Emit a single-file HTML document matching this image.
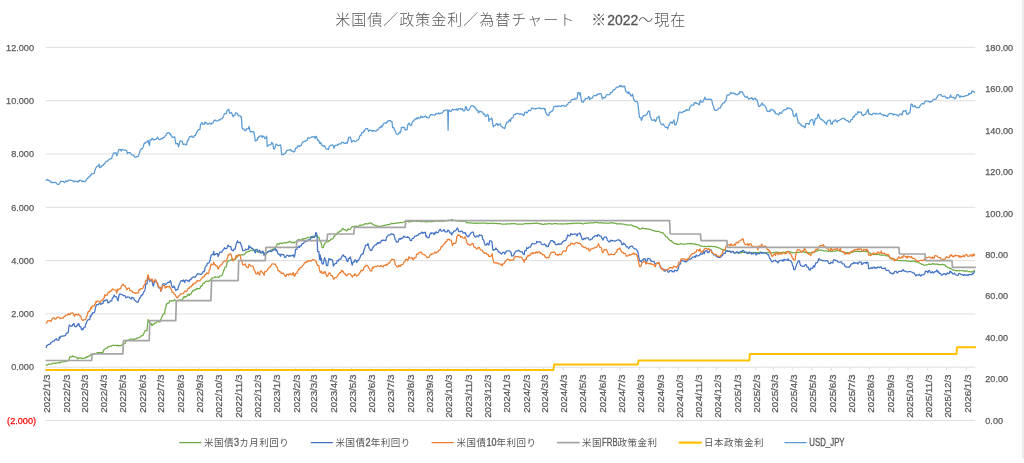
<!DOCTYPE html>
<html lang="ja"><head><meta charset="utf-8"><title>米国債／政策金利／為替チャート</title>
<style>html,body{margin:0;padding:0;background:#fff;}body{width:1024px;height:463px;overflow:hidden;}svg{display:block;filter:blur(0.4px);}text{font-family:"Liberation Sans","Noto Sans CJK JP",sans-serif;fill:#595959;}.ax{font-size:9.8px;stroke:#595959;stroke-width:0.25px;}.lg{font-size:9.5px;letter-spacing:0.5px;}.lt{font-size:10.2px;letter-spacing:0;stroke:#595959;stroke-width:0.3px;}.ttl{font-size:15px;letter-spacing:1px;font-weight:300;fill:#555;}.td{font-size:14px;letter-spacing:0;stroke:#555;stroke-width:0.3px;}.ln{fill:none;stroke-linejoin:round;stroke-linecap:round;}</style></head><body>
<svg width="1024" height="463" viewBox="0 0 1024 463">
<rect x="0" y="0" width="1024" height="463" fill="#ffffff"/>
<rect x="1022" y="0" width="2" height="458.5" fill="#ebebeb"/>
<text class="ttl" x="335.3" y="24.5">米国債／政策金利／為替チャート　※<tspan class="td" textLength="31" lengthAdjust="spacingAndGlyphs">2022</tspan>～現在</text>
<g stroke="#d9d9d9" stroke-width="0.85" fill="none">
<line x1="45.9" y1="47.45" x2="975.3" y2="47.45"/>
<line x1="45.9" y1="100.74" x2="975.3" y2="100.74"/>
<line x1="45.9" y1="154.03" x2="975.3" y2="154.03"/>
<line x1="45.9" y1="207.32" x2="975.3" y2="207.32"/>
<line x1="45.9" y1="260.61" x2="975.3" y2="260.61"/>
<line x1="45.9" y1="313.90" x2="975.3" y2="313.90"/>
<line x1="45.9" y1="367.19" x2="975.3" y2="367.19"/>
<line x1="45.9" y1="420.48" x2="975.3" y2="420.48"/>
</g>
<g stroke="#d9d9d9" stroke-width="0.85" fill="none">
<line x1="45.90" y1="367.19" x2="45.90" y2="370.39"/>
<line x1="65.42" y1="367.19" x2="65.42" y2="370.39"/>
<line x1="83.06" y1="367.19" x2="83.06" y2="370.39"/>
<line x1="102.58" y1="367.19" x2="102.58" y2="370.39"/>
<line x1="121.48" y1="367.19" x2="121.48" y2="370.39"/>
<line x1="141.00" y1="367.19" x2="141.00" y2="370.39"/>
<line x1="159.89" y1="367.19" x2="159.89" y2="370.39"/>
<line x1="179.42" y1="367.19" x2="179.42" y2="370.39"/>
<line x1="198.94" y1="367.19" x2="198.94" y2="370.39"/>
<line x1="217.84" y1="367.19" x2="217.84" y2="370.39"/>
<line x1="237.36" y1="367.19" x2="237.36" y2="370.39"/>
<line x1="256.25" y1="367.19" x2="256.25" y2="370.39"/>
<line x1="275.78" y1="367.19" x2="275.78" y2="370.39"/>
<line x1="295.30" y1="367.19" x2="295.30" y2="370.39"/>
<line x1="312.94" y1="367.19" x2="312.94" y2="370.39"/>
<line x1="332.46" y1="367.19" x2="332.46" y2="370.39"/>
<line x1="351.35" y1="367.19" x2="351.35" y2="370.39"/>
<line x1="370.88" y1="367.19" x2="370.88" y2="370.39"/>
<line x1="389.77" y1="367.19" x2="389.77" y2="370.39"/>
<line x1="409.29" y1="367.19" x2="409.29" y2="370.39"/>
<line x1="428.82" y1="367.19" x2="428.82" y2="370.39"/>
<line x1="447.71" y1="367.19" x2="447.71" y2="370.39"/>
<line x1="467.24" y1="367.19" x2="467.24" y2="370.39"/>
<line x1="486.13" y1="367.19" x2="486.13" y2="370.39"/>
<line x1="505.65" y1="367.19" x2="505.65" y2="370.39"/>
<line x1="525.18" y1="367.19" x2="525.18" y2="370.39"/>
<line x1="543.44" y1="367.19" x2="543.44" y2="370.39"/>
<line x1="562.97" y1="367.19" x2="562.97" y2="370.39"/>
<line x1="581.86" y1="367.19" x2="581.86" y2="370.39"/>
<line x1="601.38" y1="367.19" x2="601.38" y2="370.39"/>
<line x1="620.28" y1="367.19" x2="620.28" y2="370.39"/>
<line x1="639.80" y1="367.19" x2="639.80" y2="370.39"/>
<line x1="659.33" y1="367.19" x2="659.33" y2="370.39"/>
<line x1="678.22" y1="367.19" x2="678.22" y2="370.39"/>
<line x1="697.74" y1="367.19" x2="697.74" y2="370.39"/>
<line x1="716.64" y1="367.19" x2="716.64" y2="370.39"/>
<line x1="736.16" y1="367.19" x2="736.16" y2="370.39"/>
<line x1="755.68" y1="367.19" x2="755.68" y2="370.39"/>
<line x1="773.32" y1="367.19" x2="773.32" y2="370.39"/>
<line x1="792.84" y1="367.19" x2="792.84" y2="370.39"/>
<line x1="811.74" y1="367.19" x2="811.74" y2="370.39"/>
<line x1="831.26" y1="367.19" x2="831.26" y2="370.39"/>
<line x1="850.15" y1="367.19" x2="850.15" y2="370.39"/>
<line x1="869.68" y1="367.19" x2="869.68" y2="370.39"/>
<line x1="889.20" y1="367.19" x2="889.20" y2="370.39"/>
<line x1="908.10" y1="367.19" x2="908.10" y2="370.39"/>
<line x1="927.62" y1="367.19" x2="927.62" y2="370.39"/>
<line x1="946.51" y1="367.19" x2="946.51" y2="370.39"/>
<line x1="966.04" y1="367.19" x2="966.04" y2="370.39"/>
</g>
<path class="ln" d="M46.2 364.7 L46.8 365.0 L47.5 365.0 L48.1 364.5 L48.7 364.1 L49.3 364.1 L50.0 364.1 L50.6 364.0 L51.2 364.0 L51.9 364.1 L52.5 363.4 L53.1 363.2 L53.8 363.2 L54.4 363.2 L55.0 363.3 L55.6 363.1 L56.3 363.3 L56.9 363.0 L57.5 362.7 L58.2 362.7 L58.8 362.7 L59.4 362.4 L60.1 363.0 L60.7 362.2 L61.3 361.9 L61.9 361.8 L62.6 361.8 L63.2 361.8 L63.8 361.8 L64.5 361.7 L65.1 361.4 L65.7 361.2 L66.4 361.0 L67.0 361.0 L67.6 361.0 L68.2 360.3 L68.9 360.0 L69.5 358.0 L70.1 356.4 L70.8 356.9 L71.4 356.9 L72.0 356.9 L72.7 356.0 L73.3 356.5 L73.9 356.4 L74.5 356.9 L75.2 357.0 L75.8 357.0 L76.4 357.0 L77.1 357.9 L77.7 358.8 L78.3 358.0 L78.9 358.3 L79.6 357.9 L80.2 357.9 L80.8 357.9 L81.5 358.4 L82.1 358.6 L82.7 358.3 L83.4 358.3 L84.0 358.1 L84.6 358.1 L85.2 358.1 L85.9 357.2 L86.5 357.3 L87.1 356.6 L87.8 357.0 L88.4 356.1 L89.0 356.1 L89.7 356.1 L90.3 355.2 L90.9 354.6 L91.5 354.6 L92.2 354.0 L92.8 354.2 L93.4 354.2 L94.1 354.2 L94.7 353.4 L95.3 353.6 L96.0 353.3 L96.6 353.0 L97.2 352.6 L97.8 352.6 L98.5 352.6 L99.1 352.5 L99.7 352.5 L100.4 352.8 L101.0 352.4 L101.6 352.7 L102.3 352.7 L102.9 352.7 L103.5 350.4 L104.1 349.6 L104.8 349.2 L105.4 348.8 L106.0 348.1 L106.7 348.1 L107.3 348.1 L107.9 346.8 L108.6 346.5 L109.2 346.5 L109.8 346.5 L110.4 346.1 L111.1 346.1 L111.7 346.1 L112.3 345.4 L113.0 345.3 L113.6 345.3 L114.2 345.3 L114.8 345.4 L115.5 345.4 L116.1 345.4 L116.7 345.8 L117.4 345.3 L118.0 345.2 L118.6 346.0 L119.3 345.6 L119.9 345.6 L120.5 345.6 L121.1 345.7 L121.8 345.1 L122.4 344.0 L123.0 344.3 L123.7 343.6 L124.3 343.6 L124.9 343.6 L125.6 341.9 L126.2 341.5 L126.8 340.9 L127.4 340.3 L128.1 340.1 L128.7 340.1 L129.3 340.1 L130.0 339.1 L130.6 339.2 L131.2 339.2 L131.9 339.1 L132.5 339.5 L133.1 339.5 L133.7 339.5 L134.4 338.8 L135.0 339.1 L135.6 339.0 L136.3 338.6 L136.9 338.1 L137.5 338.1 L138.2 338.1 L138.8 337.5 L139.4 337.3 L140.0 337.0 L140.7 336.8 L141.3 335.7 L141.9 335.7 L142.6 335.7 L143.2 335.0 L143.8 333.4 L144.4 332.2 L145.1 330.8 L145.7 330.6 L146.3 330.6 L147.0 330.6 L147.6 323.5 L148.2 319.5 L148.9 320.7 L149.5 322.8 L150.1 323.7 L150.7 323.7 L151.4 323.7 L152.0 325.8 L152.6 324.7 L153.3 324.0 L153.9 324.1 L154.5 323.0 L155.2 323.0 L155.8 323.0 L156.4 322.8 L157.0 321.7 L157.7 321.5 L158.3 321.8 L158.9 321.8 L159.6 321.8 L160.2 321.8 L160.8 319.3 L161.5 318.1 L162.1 316.2 L162.7 315.5 L163.3 313.9 L164.0 313.9 L164.6 313.9 L165.2 309.0 L165.9 307.1 L166.5 303.8 L167.1 303.8 L167.8 303.0 L168.4 303.0 L169.0 303.0 L169.6 300.8 L170.3 300.6 L170.9 300.8 L171.5 301.1 L172.2 300.8 L172.8 300.8 L173.4 300.8 L174.0 300.3 L174.7 299.6 L175.3 300.7 L175.9 300.9 L176.6 300.6 L177.2 300.6 L177.8 300.6 L178.5 300.4 L179.1 299.9 L179.7 300.2 L180.3 299.8 L181.0 300.2 L181.6 300.2 L182.2 300.2 L182.9 298.2 L183.5 297.4 L184.1 296.4 L184.8 297.5 L185.4 296.7 L186.0 296.7 L186.6 296.7 L187.3 295.0 L187.9 295.2 L188.5 294.1 L189.2 295.5 L189.8 294.1 L190.4 294.1 L191.1 294.1 L191.7 292.4 L192.3 291.7 L192.9 290.6 L193.6 290.9 L194.2 289.9 L194.8 289.9 L195.5 289.9 L196.1 289.6 L196.7 288.3 L197.4 288.4 L198.0 288.9 L198.6 288.7 L199.2 288.7 L199.9 288.7 L200.5 286.6 L201.1 285.8 L201.8 286.1 L202.4 285.3 L203.0 283.2 L203.7 283.2 L204.3 283.2 L204.9 282.2 L205.5 281.7 L206.2 281.2 L206.8 281.0 L207.4 281.4 L208.1 281.4 L208.7 281.4 L209.3 280.6 L209.9 280.9 L210.6 279.7 L211.2 279.1 L211.8 278.1 L212.5 278.1 L213.1 278.1 L213.7 277.8 L214.4 277.3 L215.0 276.8 L215.6 277.4 L216.2 277.2 L216.9 277.2 L217.5 277.2 L218.1 277.1 L218.8 277.5 L219.4 276.7 L220.0 276.0 L220.7 275.9 L221.3 275.9 L221.9 275.9 L222.5 274.1 L223.2 272.3 L223.8 270.5 L224.4 268.8 L225.1 266.9 L225.7 266.9 L226.3 266.9 L227.0 262.7 L227.6 261.5 L228.2 261.4 L228.8 260.5 L229.5 260.3 L230.1 260.3 L230.7 260.3 L231.4 259.9 L232.0 259.2 L232.6 259.2 L233.3 260.7 L233.9 259.5 L234.5 259.5 L235.1 259.5 L235.8 258.6 L236.4 257.2 L237.0 257.0 L237.7 256.5 L238.3 255.0 L238.9 255.0 L239.5 255.0 L240.2 255.7 L240.8 255.1 L241.4 254.9 L242.1 254.7 L242.7 254.8 L243.3 254.8 L244.0 254.8 L244.6 254.0 L245.2 253.7 L245.8 252.4 L246.5 252.5 L247.1 251.6 L247.7 251.6 L248.4 251.6 L249.0 251.4 L249.6 251.3 L250.3 250.3 L250.9 250.4 L251.5 250.3 L252.1 250.3 L252.8 250.3 L253.4 250.4 L254.0 249.7 L254.7 249.9 L255.3 250.3 L255.9 251.6 L256.6 251.6 L257.2 251.6 L257.8 251.8 L258.4 251.4 L259.1 251.8 L259.7 251.9 L260.3 252.1 L261.0 252.1 L261.6 252.1 L262.2 252.7 L262.9 252.9 L263.5 252.8 L264.1 253.3 L264.7 254.4 L265.4 254.4 L266.0 254.4 L266.6 253.1 L267.3 252.2 L267.9 251.6 L268.5 251.5 L269.1 251.3 L269.8 251.3 L270.4 251.3 L271.0 249.9 L271.7 249.9 L272.3 249.7 L272.9 249.0 L273.6 248.8 L274.2 248.8 L274.8 248.8 L275.4 248.3 L276.1 245.9 L276.7 245.4 L277.3 243.6 L278.0 244.0 L278.6 244.0 L279.2 244.0 L279.9 243.2 L280.5 243.2 L281.1 243.3 L281.7 243.7 L282.4 243.2 L283.0 243.2 L283.6 243.2 L284.3 242.8 L284.9 242.6 L285.5 242.7 L286.2 243.0 L286.8 242.4 L287.4 242.4 L288.0 242.4 L288.7 241.9 L289.3 241.7 L289.9 241.7 L290.6 241.6 L291.2 242.5 L291.8 242.5 L292.5 242.5 L293.1 242.3 L293.7 242.2 L294.3 243.0 L295.0 242.0 L295.6 241.9 L296.2 241.9 L296.9 241.9 L297.5 240.7 L298.1 239.6 L298.7 239.5 L299.4 239.5 L300.0 240.1 L300.6 240.1 L301.3 240.1 L301.9 239.7 L302.5 238.6 L303.2 239.4 L303.8 238.8 L304.4 238.7 L305.0 238.7 L305.7 238.7 L306.3 238.2 L306.9 238.1 L307.6 237.4 L308.2 237.5 L308.8 237.3 L309.5 237.3 L310.1 237.3 L310.7 237.4 L311.3 237.9 L312.0 238.0 L312.6 236.7 L313.2 236.0 L313.9 236.0 L314.5 236.0 L315.1 235.7 L315.8 235.2 L316.4 235.9 L317.0 235.8 L317.6 237.1 L318.3 237.1 L318.9 237.1 L319.5 240.1 L320.2 241.2 L320.8 242.0 L321.4 244.0 L322.1 247.7 L322.7 247.7 L323.3 247.7 L323.9 245.0 L324.6 244.1 L325.2 243.0 L325.8 242.4 L326.5 241.8 L327.1 241.8 L327.7 241.8 L328.4 240.7 L329.0 241.4 L329.6 240.6 L330.2 240.3 L330.9 239.1 L331.5 239.1 L332.1 239.1 L332.8 238.5 L333.4 238.2 L334.0 236.1 L334.6 236.3 L335.3 234.6 L335.9 234.6 L336.5 234.6 L337.2 233.3 L337.8 232.3 L338.4 232.1 L339.1 232.1 L339.7 231.1 L340.3 231.1 L340.9 231.1 L341.6 230.0 L342.2 228.7 L342.8 228.3 L343.5 229.6 L344.1 229.7 L344.7 229.7 L345.4 229.7 L346.0 230.7 L346.6 230.9 L347.2 230.5 L347.9 228.9 L348.5 229.4 L349.1 229.4 L349.8 229.4 L350.4 228.9 L351.0 228.1 L351.7 227.0 L352.3 226.7 L352.9 226.7 L353.5 226.7 L354.2 226.7 L354.8 226.1 L355.4 226.3 L356.1 226.2 L356.7 226.2 L357.3 226.6 L358.0 226.6 L358.6 226.6 L359.2 225.7 L359.8 225.1 L360.5 225.6 L361.1 225.1 L361.7 225.1 L362.4 225.1 L363.0 225.1 L363.6 224.6 L364.2 224.3 L364.9 223.9 L365.5 223.6 L366.1 223.8 L366.8 223.8 L367.4 223.8 L368.0 223.9 L368.7 223.4 L369.3 223.1 L369.9 222.9 L370.5 223.2 L371.2 223.2 L371.8 223.2 L372.4 224.4 L373.1 224.4 L373.7 224.8 L374.3 225.1 L375.0 225.3 L375.6 225.3 L376.2 225.3 L376.8 226.0 L377.5 226.0 L378.1 226.1 L378.7 226.3 L379.4 226.3 L380.0 226.3 L380.6 226.3 L381.3 226.1 L381.9 226.1 L382.5 225.8 L383.1 225.5 L383.8 225.4 L384.4 225.4 L385.0 225.4 L385.7 225.1 L386.3 225.0 L386.9 224.8 L387.6 224.6 L388.2 224.5 L388.8 224.5 L389.4 224.5 L390.1 224.0 L390.7 223.9 L391.3 223.4 L392.0 223.6 L392.6 223.5 L393.2 223.5 L393.8 223.5 L394.5 223.4 L395.1 223.0 L395.7 223.0 L396.4 223.0 L397.0 223.1 L397.6 223.1 L398.3 223.1 L398.9 222.6 L399.5 222.5 L400.1 222.7 L400.8 222.3 L401.4 222.5 L402.0 222.5 L402.7 222.5 L403.3 222.2 L403.9 222.0 L404.6 221.6 L405.2 221.7 L405.8 221.4 L406.4 221.4 L407.1 221.4 L407.7 221.4 L408.3 221.8 L409.0 221.6 L409.6 221.9 L410.2 221.5 L410.9 221.5 L411.5 221.5 L412.1 221.2 L412.7 221.3 L413.4 221.4 L414.0 221.2 L414.6 221.2 L415.3 221.2 L415.9 221.2 L416.5 221.3 L417.2 221.2 L417.8 221.4 L418.4 221.3 L419.0 221.3 L419.7 221.3 L420.3 221.3 L420.9 221.7 L421.6 221.7 L422.2 221.6 L422.8 221.6 L423.5 221.4 L424.1 221.4 L424.7 221.4 L425.3 221.9 L426.0 221.8 L426.6 221.6 L427.2 221.8 L427.9 221.5 L428.5 221.5 L429.1 221.5 L429.7 221.6 L430.4 221.6 L431.0 221.6 L431.6 221.5 L432.3 221.5 L432.9 221.5 L433.5 221.5 L434.2 221.2 L434.8 221.2 L435.4 221.2 L436.0 221.2 L436.7 221.2 L437.3 221.2 L437.9 221.2 L438.6 221.2 L439.2 221.4 L439.8 220.8 L440.5 221.2 L441.1 221.1 L441.7 221.1 L442.3 221.1 L443.0 221.4 L443.6 221.1 L444.2 220.7 L444.9 220.9 L445.5 220.7 L446.1 220.7 L446.8 220.7 L447.4 220.6 L448.0 220.3 L448.6 220.3 L449.3 220.1 L449.9 220.0 L450.5 220.0 L451.2 220.0 L451.8 219.6 L452.4 219.6 L453.1 220.2 L453.7 220.5 L454.3 220.4 L454.9 220.4 L455.6 220.4 L456.2 220.5 L456.8 220.8 L457.5 220.9 L458.1 220.9 L458.7 221.0 L459.3 221.0 L460.0 221.0 L460.6 221.4 L461.2 221.1 L461.9 221.2 L462.5 221.1 L463.1 221.3 L463.8 221.3 L464.4 221.3 L465.0 221.4 L465.6 221.7 L466.3 222.1 L466.9 222.8 L467.5 222.7 L468.2 222.7 L468.8 222.7 L469.4 222.9 L470.1 223.2 L470.7 223.0 L471.3 222.8 L471.9 223.1 L472.6 223.1 L473.2 223.1 L473.8 223.1 L474.5 223.5 L475.1 223.1 L475.7 223.3 L476.4 223.1 L477.0 223.1 L477.6 223.1 L478.2 223.3 L478.9 223.1 L479.5 223.2 L480.1 223.1 L480.8 223.0 L481.4 223.0 L482.0 223.0 L482.7 223.2 L483.3 223.2 L483.9 223.1 L484.5 223.0 L485.2 223.1 L485.8 223.1 L486.4 223.1 L487.1 223.4 L487.7 223.7 L488.3 223.3 L488.9 223.3 L489.6 223.3 L490.2 223.3 L490.8 223.3 L491.5 223.2 L492.1 223.2 L492.7 223.3 L493.4 223.6 L494.0 223.4 L494.6 223.4 L495.2 223.4 L495.9 223.5 L496.5 223.4 L497.1 223.7 L497.8 223.7 L498.4 223.5 L499.0 223.5 L499.7 223.5 L500.3 223.7 L500.9 223.9 L501.5 224.1 L502.2 224.1 L502.8 224.0 L503.4 224.0 L504.1 224.0 L504.7 224.1 L505.3 224.1 L506.0 224.0 L506.6 224.3 L507.2 223.8 L507.8 223.8 L508.5 223.8 L509.1 223.8 L509.7 224.0 L510.4 223.7 L511.0 223.9 L511.6 223.7 L512.3 223.7 L512.9 223.7 L513.5 223.8 L514.1 223.7 L514.8 223.6 L515.4 223.6 L516.0 224.1 L516.7 224.1 L517.3 224.1 L517.9 224.0 L518.6 224.0 L519.2 224.1 L519.8 224.1 L520.4 224.2 L521.1 224.2 L521.7 224.2 L522.3 224.0 L523.0 224.0 L523.6 224.1 L524.2 223.9 L524.8 223.7 L525.5 223.7 L526.1 223.7 L526.7 223.7 L527.4 223.6 L528.0 223.8 L528.6 223.5 L529.3 223.5 L529.9 223.5 L530.5 223.5 L531.1 223.4 L531.8 223.6 L532.4 223.4 L533.0 223.4 L533.7 223.3 L534.3 223.3 L534.9 223.3 L535.6 223.1 L536.2 223.1 L536.8 223.3 L537.4 223.0 L538.1 223.5 L538.7 223.5 L539.3 223.5 L540.0 223.7 L540.6 223.8 L541.2 224.2 L541.9 223.9 L542.5 224.3 L543.1 224.3 L543.7 224.3 L544.4 224.2 L545.0 223.9 L545.6 224.1 L546.3 224.1 L546.9 223.9 L547.5 223.9 L548.2 223.9 L548.8 223.5 L549.4 223.7 L550.0 223.7 L550.7 223.6 L551.3 224.0 L551.9 224.0 L552.6 224.0 L553.2 223.7 L553.8 223.7 L554.4 223.7 L555.1 223.6 L555.7 223.7 L556.3 223.7 L557.0 223.7 L557.6 223.9 L558.2 224.0 L558.9 223.9 L559.5 224.0 L560.1 223.9 L560.7 223.9 L561.4 223.9 L562.0 224.1 L562.6 223.9 L563.3 224.0 L563.9 223.8 L564.5 223.8 L565.2 223.8 L565.8 223.8 L566.4 223.8 L567.0 223.5 L567.7 224.0 L568.3 223.6 L568.9 223.6 L569.6 223.6 L570.2 223.6 L570.8 223.4 L571.5 223.6 L572.1 223.6 L572.7 223.4 L573.3 223.2 L574.0 223.2 L574.6 223.2 L575.2 223.3 L575.9 223.5 L576.5 223.3 L577.1 223.2 L577.8 223.2 L578.4 223.2 L579.0 223.2 L579.6 223.3 L580.3 223.4 L580.9 223.3 L581.5 223.4 L582.2 223.8 L582.8 223.8 L583.4 223.8 L584.0 223.6 L584.7 223.2 L585.3 223.3 L585.9 223.3 L586.6 223.2 L587.2 223.2 L587.8 223.2 L588.5 223.2 L589.1 223.0 L589.7 222.9 L590.3 222.9 L591.0 222.9 L591.6 222.9 L592.2 222.9 L592.9 223.0 L593.5 222.9 L594.1 222.5 L594.8 222.6 L595.4 222.4 L596.0 222.4 L596.6 222.4 L597.3 222.4 L597.9 222.6 L598.5 222.9 L599.2 223.0 L599.8 222.7 L600.4 222.7 L601.1 222.7 L601.7 223.1 L602.3 223.0 L602.9 223.1 L603.6 222.8 L604.2 223.0 L604.8 223.0 L605.5 223.0 L606.1 223.0 L606.7 223.0 L607.4 223.2 L608.0 223.3 L608.6 223.1 L609.2 223.1 L609.9 223.1 L610.5 223.0 L611.1 222.6 L611.8 222.5 L612.4 223.0 L613.0 223.0 L613.6 223.0 L614.3 223.0 L614.9 223.1 L615.5 223.4 L616.2 223.6 L616.8 223.8 L617.4 223.8 L618.1 223.8 L618.7 223.8 L619.3 223.8 L619.9 223.8 L620.6 223.7 L621.2 223.9 L621.8 224.0 L622.5 224.0 L623.1 224.0 L623.7 224.2 L624.4 224.4 L625.0 224.4 L625.6 224.6 L626.2 224.8 L626.9 224.8 L627.5 224.8 L628.1 225.0 L628.8 225.0 L629.4 225.0 L630.0 224.9 L630.7 225.2 L631.3 225.2 L631.9 225.2 L632.5 225.8 L633.2 225.8 L633.8 226.3 L634.4 226.3 L635.1 226.6 L635.7 226.6 L636.3 226.6 L637.0 227.3 L637.6 227.4 L638.2 228.1 L638.8 228.2 L639.5 229.1 L640.1 229.1 L640.7 229.1 L641.4 228.4 L642.0 228.3 L642.6 228.2 L643.3 228.3 L643.9 228.6 L644.5 228.6 L645.1 228.6 L645.8 228.9 L646.4 228.6 L647.0 228.9 L647.7 229.1 L648.3 229.0 L648.9 229.0 L649.5 229.0 L650.2 229.6 L650.8 229.6 L651.4 230.0 L652.1 230.2 L652.7 230.5 L653.3 230.5 L654.0 230.5 L654.6 231.0 L655.2 231.1 L655.8 231.6 L656.5 231.4 L657.1 231.4 L657.7 231.4 L658.4 231.4 L659.0 231.6 L659.6 231.8 L660.3 232.0 L660.9 232.5 L661.5 232.7 L662.1 232.7 L662.8 232.7 L663.4 233.5 L664.0 234.2 L664.7 235.1 L665.3 235.5 L665.9 236.9 L666.6 236.9 L667.2 236.9 L667.8 238.2 L668.4 238.7 L669.1 239.5 L669.7 240.2 L670.3 240.7 L671.0 240.7 L671.6 240.7 L672.2 242.2 L672.9 242.2 L673.5 243.0 L674.1 243.3 L674.7 243.7 L675.4 243.7 L676.0 243.7 L676.6 244.3 L677.3 244.2 L677.9 244.3 L678.5 244.2 L679.1 244.2 L679.8 244.2 L680.4 244.2 L681.0 243.5 L681.7 243.7 L682.3 243.8 L682.9 244.0 L683.6 244.2 L684.2 244.2 L684.8 244.2 L685.4 244.0 L686.1 243.8 L686.7 244.0 L687.3 243.9 L688.0 243.7 L688.6 243.7 L689.2 243.7 L689.9 243.9 L690.5 243.6 L691.1 243.7 L691.7 243.5 L692.4 243.9 L693.0 243.9 L693.6 243.9 L694.3 243.8 L694.9 244.2 L695.5 244.0 L696.2 244.7 L696.8 244.6 L697.4 244.6 L698.0 244.6 L698.7 245.0 L699.3 245.5 L699.9 245.8 L700.6 245.9 L701.2 246.2 L701.8 246.2 L702.5 246.2 L703.1 246.5 L703.7 246.6 L704.3 246.2 L705.0 246.5 L705.6 246.5 L706.2 246.5 L706.9 246.5 L707.5 246.3 L708.1 246.4 L708.7 246.2 L709.4 246.6 L710.0 246.4 L710.6 246.4 L711.3 246.4 L711.9 246.3 L712.5 246.5 L713.2 246.5 L713.8 246.5 L714.4 246.5 L715.0 246.5 L715.7 246.5 L716.3 247.2 L716.9 247.4 L717.6 247.3 L718.2 247.6 L718.8 248.1 L719.5 248.1 L720.1 248.1 L720.7 248.8 L721.3 249.1 L722.0 249.4 L722.6 249.6 L723.2 250.0 L723.9 250.0 L724.5 250.0 L725.1 250.3 L725.8 250.5 L726.4 250.8 L727.0 250.9 L727.6 251.0 L728.3 251.0 L728.9 251.0 L729.5 251.4 L730.2 251.3 L730.8 251.7 L731.4 251.8 L732.1 251.7 L732.7 251.7 L733.3 251.7 L733.9 252.3 L734.6 252.8 L735.2 252.8 L735.8 252.7 L736.5 252.5 L737.1 252.5 L737.7 252.5 L738.4 252.8 L739.0 252.7 L739.6 252.6 L740.2 252.8 L740.9 252.5 L741.5 252.5 L742.1 252.5 L742.8 252.4 L743.4 252.3 L744.0 252.3 L744.6 252.5 L745.3 252.6 L745.9 252.6 L746.5 252.6 L747.2 253.2 L747.8 252.8 L748.4 252.9 L749.1 253.2 L749.7 252.9 L750.3 252.9 L750.9 252.9 L751.6 252.6 L752.2 252.9 L752.8 252.6 L753.5 252.4 L754.1 252.7 L754.7 252.7 L755.4 252.7 L756.0 252.7 L756.6 252.6 L757.2 252.6 L757.9 252.6 L758.5 252.3 L759.1 252.3 L759.8 252.3 L760.4 252.0 L761.0 252.0 L761.7 252.4 L762.3 252.6 L762.9 252.7 L763.5 252.7 L764.2 252.7 L764.8 252.8 L765.4 252.9 L766.1 252.6 L766.7 252.8 L767.3 252.4 L768.0 252.4 L768.6 252.4 L769.2 252.9 L769.8 252.9 L770.5 252.9 L771.1 252.9 L771.7 252.8 L772.4 252.8 L773.0 252.8 L773.6 252.7 L774.2 252.7 L774.9 252.4 L775.5 252.4 L776.1 252.2 L776.8 252.2 L777.4 252.2 L778.0 252.5 L778.7 252.4 L779.3 252.6 L779.9 252.6 L780.5 252.6 L781.2 252.6 L781.8 252.6 L782.4 252.3 L783.1 252.1 L783.7 252.2 L784.3 252.3 L785.0 252.3 L785.6 252.3 L786.2 252.3 L786.8 251.9 L787.5 252.0 L788.1 252.1 L788.7 252.1 L789.4 251.9 L790.0 251.9 L790.6 251.9 L791.3 252.3 L791.9 252.3 L792.5 252.7 L793.1 252.8 L793.8 252.9 L794.4 252.9 L795.0 252.9 L795.7 252.5 L796.3 252.8 L796.9 252.7 L797.6 252.3 L798.2 252.4 L798.8 252.4 L799.4 252.4 L800.1 252.1 L800.7 252.0 L801.3 251.9 L802.0 251.8 L802.6 251.8 L803.2 251.8 L803.8 251.8 L804.5 252.5 L805.1 252.2 L805.7 252.3 L806.4 252.2 L807.0 252.4 L807.6 252.4 L808.3 252.4 L808.9 252.8 L809.5 252.8 L810.1 253.0 L810.8 252.8 L811.4 252.8 L812.0 252.8 L812.7 252.8 L813.3 252.1 L813.9 252.2 L814.6 251.7 L815.2 251.4 L815.8 251.0 L816.4 251.0 L817.1 251.0 L817.7 250.3 L818.3 250.4 L819.0 250.0 L819.6 250.1 L820.2 250.1 L820.9 250.1 L821.5 250.1 L822.1 250.6 L822.7 250.7 L823.4 250.8 L824.0 250.9 L824.6 250.8 L825.3 250.8 L825.9 250.8 L826.5 250.9 L827.2 251.2 L827.8 251.4 L828.4 251.4 L829.0 251.2 L829.7 251.2 L830.3 251.2 L830.9 251.5 L831.6 251.4 L832.2 251.4 L832.8 251.3 L833.5 251.1 L834.1 251.1 L834.7 251.1 L835.3 251.0 L836.0 251.1 L836.6 250.8 L837.2 250.6 L837.9 250.7 L838.5 250.7 L839.1 250.7 L839.7 251.2 L840.4 251.0 L841.0 251.3 L841.6 251.6 L842.3 251.7 L842.9 251.7 L843.5 251.7 L844.2 252.3 L844.8 252.3 L845.4 252.8 L846.0 252.9 L846.7 252.7 L847.3 252.7 L847.9 252.7 L848.6 252.8 L849.2 252.8 L849.8 252.9 L850.5 252.6 L851.1 252.3 L851.7 252.3 L852.3 252.3 L853.0 252.0 L853.6 251.8 L854.2 251.7 L854.9 251.2 L855.5 251.3 L856.1 251.3 L856.8 251.3 L857.4 251.3 L858.0 251.1 L858.6 251.5 L859.3 251.6 L859.9 251.6 L860.5 251.6 L861.2 251.6 L861.8 251.3 L862.4 251.2 L863.1 251.4 L863.7 251.3 L864.3 251.3 L864.9 251.3 L865.6 251.3 L866.2 251.7 L866.8 251.7 L867.5 251.7 L868.1 251.8 L868.7 252.8 L869.3 252.8 L870.0 252.8 L870.6 254.2 L871.2 254.0 L871.9 254.1 L872.5 254.4 L873.1 254.5 L873.8 254.5 L874.4 254.5 L875.0 254.3 L875.6 254.4 L876.3 254.3 L876.9 254.8 L877.5 254.4 L878.2 254.4 L878.8 254.4 L879.4 254.8 L880.1 255.0 L880.7 255.1 L881.3 255.1 L881.9 255.2 L882.6 255.2 L883.2 255.2 L883.8 255.0 L884.5 255.2 L885.1 255.2 L885.7 255.4 L886.4 255.9 L887.0 255.9 L887.6 255.9 L888.2 255.7 L888.9 256.5 L889.5 257.0 L890.1 258.1 L890.8 258.8 L891.4 258.8 L892.0 258.8 L892.7 259.0 L893.3 259.5 L893.9 259.3 L894.5 259.7 L895.2 259.7 L895.8 259.7 L896.4 259.7 L897.1 260.2 L897.7 260.4 L898.3 260.5 L898.9 260.6 L899.6 260.5 L900.2 260.5 L900.8 260.5 L901.5 260.8 L902.1 260.5 L902.7 260.5 L903.4 260.6 L904.0 260.6 L904.6 260.6 L905.2 260.6 L905.9 260.7 L906.5 260.9 L907.1 261.2 L907.8 261.1 L908.4 261.2 L909.0 261.2 L909.7 261.2 L910.3 261.3 L910.9 261.4 L911.5 261.3 L912.2 261.4 L912.8 261.2 L913.4 261.2 L914.1 261.2 L914.7 261.6 L915.3 261.6 L916.0 261.9 L916.6 261.9 L917.2 262.2 L917.8 262.2 L918.5 262.2 L919.1 263.0 L919.7 263.2 L920.4 263.5 L921.0 263.7 L921.6 264.3 L922.3 264.3 L922.9 264.3 L923.5 265.0 L924.1 265.2 L924.8 265.3 L925.4 265.0 L926.0 264.8 L926.7 264.8 L927.3 264.8 L927.9 264.6 L928.5 264.3 L929.2 263.9 L929.8 264.3 L930.4 264.3 L931.1 264.3 L931.7 264.3 L932.3 263.7 L933.0 263.9 L933.6 264.2 L934.2 263.9 L934.8 264.1 L935.5 264.1 L936.1 264.1 L936.7 264.2 L937.4 264.4 L938.0 264.2 L938.6 264.7 L939.3 264.6 L939.9 264.6 L940.5 264.6 L941.1 264.7 L941.8 264.6 L942.4 264.3 L943.0 264.7 L943.7 264.9 L944.3 264.9 L944.9 264.9 L945.6 266.1 L946.2 266.3 L946.8 266.8 L947.4 267.3 L948.1 267.8 L948.7 267.8 L949.3 267.8 L950.0 268.5 L950.6 268.4 L951.2 268.7 L951.9 269.4 L952.5 269.8 L953.1 269.8 L953.7 269.8 L954.4 270.3 L955.0 270.5 L955.6 270.5 L956.3 270.8 L956.9 270.6 L957.5 270.6 L958.2 270.6 L958.8 270.7 L959.4 270.9 L960.0 270.5 L960.7 270.6 L961.3 270.5 L961.9 270.5 L962.6 270.5 L963.2 270.7 L963.8 271.1 L964.4 271.1 L965.1 271.4 L965.7 270.9 L966.3 270.9 L967.0 270.9 L967.6 271.2 L968.2 271.5 L968.9 271.6 L969.5 271.7 L970.1 271.8 L970.7 271.8 L971.4 271.8 L972.0 272.0 L972.6 271.6 L973.3 271.2 L973.9 271.0 L974.5 270.5" stroke="#70ad47" stroke-width="1.25"/>
<path class="ln" d="M46.2 347.5 L46.8 345.4 L47.5 345.4 L48.1 344.7 L48.7 344.4 L49.3 344.4 L50.0 344.4 L50.6 342.6 L51.2 342.8 L51.9 342.1 L52.5 341.5 L53.1 341.1 L53.8 341.1 L54.4 341.1 L55.0 339.7 L55.6 339.3 L56.3 338.6 L56.9 340.0 L57.5 340.2 L58.2 340.2 L58.8 340.2 L59.4 336.9 L60.1 338.1 L60.7 336.8 L61.3 336.1 L61.9 336.1 L62.6 336.1 L63.2 336.1 L63.8 335.9 L64.5 335.9 L65.1 335.4 L65.7 334.9 L66.4 333.1 L67.0 333.1 L67.6 333.1 L68.2 332.3 L68.9 326.6 L69.5 324.9 L70.1 325.6 L70.8 326.2 L71.4 326.2 L72.0 326.2 L72.7 324.4 L73.3 324.7 L73.9 323.5 L74.5 326.2 L75.2 326.7 L75.8 326.7 L76.4 326.7 L77.1 325.1 L77.7 325.4 L78.3 323.4 L78.9 323.8 L79.6 326.6 L80.2 326.6 L80.8 326.6 L81.5 329.7 L82.1 329.9 L82.7 328.6 L83.4 329.2 L84.0 327.1 L84.6 327.1 L85.2 327.1 L85.9 323.6 L86.5 322.6 L87.1 320.8 L87.8 320.0 L88.4 319.7 L89.0 319.7 L89.7 319.7 L90.3 316.0 L90.9 316.5 L91.5 314.5 L92.2 314.3 L92.8 312.6 L93.4 312.6 L94.1 312.6 L94.7 311.8 L95.3 308.5 L96.0 305.9 L96.6 304.6 L97.2 304.6 L97.8 304.6 L98.5 304.6 L99.1 303.5 L99.7 303.1 L100.4 303.9 L101.0 304.4 L101.6 303.5 L102.3 303.5 L102.9 303.5 L103.5 301.0 L104.1 301.2 L104.8 300.4 L105.4 300.7 L106.0 299.9 L106.7 299.9 L107.3 299.9 L107.9 302.8 L108.6 302.6 L109.2 302.1 L109.8 302.1 L110.4 300.8 L111.1 300.8 L111.7 300.8 L112.3 298.3 L113.0 297.5 L113.6 296.6 L114.2 295.1 L114.8 296.6 L115.5 296.6 L116.1 296.6 L116.7 297.4 L117.4 299.3 L118.0 300.8 L118.6 297.7 L119.3 294.1 L119.9 294.1 L120.5 294.1 L121.1 294.3 L121.8 294.7 L122.4 294.8 L123.0 295.2 L123.7 295.6 L124.3 295.6 L124.9 295.6 L125.6 297.0 L126.2 297.8 L126.8 297.1 L127.4 296.9 L128.1 297.2 L128.7 297.2 L129.3 297.2 L130.0 298.2 L130.6 298.5 L131.2 299.0 L131.9 297.1 L132.5 297.9 L133.1 297.9 L133.7 297.9 L134.4 300.2 L135.0 300.6 L135.6 301.0 L136.3 301.5 L136.9 302.1 L137.5 302.1 L138.2 302.1 L138.8 299.5 L139.4 298.9 L140.0 297.5 L140.7 297.0 L141.3 295.0 L141.9 295.0 L142.6 295.0 L143.2 293.2 L143.8 291.8 L144.4 291.4 L145.1 289.4 L145.7 284.0 L146.3 284.0 L147.0 284.0 L147.6 278.3 L148.2 276.6 L148.9 279.1 L149.5 281.4 L150.1 280.8 L150.7 280.8 L151.4 280.8 L152.0 279.8 L152.6 284.2 L153.3 286.1 L153.9 284.1 L154.5 281.2 L155.2 281.2 L155.8 281.2 L156.4 282.2 L157.0 282.7 L157.7 283.7 L158.3 287.1 L158.9 287.8 L159.6 287.8 L160.2 287.8 L160.8 291.3 L161.5 288.8 L162.1 286.9 L162.7 284.0 L163.3 283.9 L164.0 283.9 L164.6 283.9 L165.2 284.4 L165.9 284.6 L166.5 283.8 L167.1 283.1 L167.8 282.4 L168.4 282.4 L169.0 282.4 L169.6 281.8 L170.3 280.5 L170.9 282.0 L171.5 284.9 L172.2 287.3 L172.8 287.3 L173.4 287.3 L174.0 286.0 L174.7 287.4 L175.3 289.2 L175.9 290.4 L176.6 289.5 L177.2 289.5 L177.8 289.5 L178.5 286.5 L179.1 284.8 L179.7 283.5 L180.3 282.3 L181.0 280.7 L181.6 280.7 L182.2 280.7 L182.9 281.4 L183.5 279.9 L184.1 281.3 L184.8 282.5 L185.4 280.0 L186.0 280.0 L186.6 280.0 L187.3 280.4 L187.9 281.1 L188.5 280.8 L189.2 281.5 L189.8 279.6 L190.4 279.6 L191.1 279.6 L191.7 277.8 L192.3 277.9 L192.9 277.3 L193.6 276.7 L194.2 277.1 L194.8 277.1 L195.5 277.1 L196.1 275.5 L196.7 274.8 L197.4 273.9 L198.0 273.6 L198.6 274.0 L199.2 274.0 L199.9 274.0 L200.5 274.4 L201.1 274.4 L201.8 273.7 L202.4 273.0 L203.0 271.7 L203.7 271.7 L204.3 271.7 L204.9 268.1 L205.5 267.0 L206.2 265.7 L206.8 265.6 L207.4 263.2 L208.1 263.2 L208.7 263.2 L209.3 262.2 L209.9 260.8 L210.6 257.6 L211.2 255.2 L211.8 254.6 L212.5 254.6 L213.1 254.6 L213.7 251.4 L214.4 255.2 L215.0 254.3 L215.6 254.3 L216.2 253.7 L216.9 253.7 L217.5 253.7 L218.1 256.5 L218.8 254.8 L219.4 253.3 L220.0 251.9 L220.7 252.2 L221.3 252.2 L221.9 252.2 L222.5 250.6 L223.2 249.9 L223.8 249.4 L224.4 247.7 L225.1 248.6 L225.7 248.6 L226.3 248.6 L227.0 248.2 L227.6 246.1 L228.2 245.2 L228.8 246.4 L229.5 246.5 L230.1 246.5 L230.7 246.5 L231.4 249.5 L232.0 250.1 L232.6 250.7 L233.3 250.8 L233.9 249.2 L234.5 249.2 L235.1 249.2 L235.8 245.6 L236.4 243.8 L237.0 242.2 L237.7 240.9 L238.3 242.6 L238.9 242.6 L239.5 242.6 L240.2 242.3 L240.8 243.8 L241.4 245.5 L242.1 247.9 L242.7 250.6 L243.3 250.6 L244.0 250.6 L244.6 250.5 L245.2 249.9 L245.8 249.2 L246.5 249.6 L247.1 249.3 L247.7 249.3 L248.4 249.3 L249.0 245.5 L249.6 247.8 L250.3 247.1 L250.9 247.2 L251.5 248.4 L252.1 248.4 L252.8 248.4 L253.4 249.7 L254.0 250.5 L254.7 251.6 L255.3 252.9 L255.9 249.4 L256.6 249.4 L257.2 249.4 L257.8 251.1 L258.4 252.0 L259.1 251.0 L259.7 250.1 L260.3 252.8 L261.0 252.8 L261.6 252.8 L262.2 251.3 L262.9 251.1 L263.5 252.9 L264.1 255.7 L264.7 253.2 L265.4 253.2 L266.0 253.2 L266.6 252.7 L267.3 252.7 L267.9 251.7 L268.5 251.9 L269.1 250.9 L269.8 250.9 L270.4 250.9 L271.0 251.5 L271.7 251.5 L272.3 250.4 L272.9 250.5 L273.6 249.9 L274.2 249.9 L274.8 249.9 L275.4 248.3 L276.1 250.8 L276.7 249.9 L277.3 251.4 L278.0 254.2 L278.6 254.2 L279.2 254.2 L279.9 255.1 L280.5 256.3 L281.1 254.0 L281.7 254.5 L282.4 254.5 L283.0 254.5 L283.6 254.5 L284.3 256.2 L284.9 257.5 L285.5 257.5 L286.2 256.2 L286.8 255.4 L287.4 255.4 L288.0 255.4 L288.7 256.4 L289.3 256.0 L289.9 255.3 L290.6 256.1 L291.2 255.5 L291.8 255.5 L292.5 255.5 L293.1 254.8 L293.7 256.1 L294.3 257.1 L295.0 254.5 L295.6 249.4 L296.2 249.4 L296.9 249.4 L297.5 247.4 L298.1 247.2 L298.7 246.5 L299.4 247.5 L300.0 245.8 L300.6 245.8 L301.3 245.8 L301.9 243.9 L302.5 243.7 L303.2 243.5 L303.8 243.1 L304.4 241.7 L305.0 241.7 L305.7 241.7 L306.3 240.8 L306.9 241.2 L307.6 241.1 L308.2 239.7 L308.8 239.9 L309.5 239.9 L310.1 239.9 L310.7 237.7 L311.3 236.6 L312.0 237.3 L312.6 236.7 L313.2 237.4 L313.9 237.4 L314.5 237.4 L315.1 236.5 L315.8 232.7 L316.4 232.8 L317.0 235.2 L317.6 251.5 L318.3 251.5 L318.9 251.5 L319.5 259.4 L320.2 254.8 L320.8 260.4 L321.4 258.3 L322.1 263.8 L322.7 263.8 L323.3 263.8 L323.9 261.2 L324.6 257.6 L325.2 259.6 L325.8 261.2 L326.5 265.7 L327.1 265.7 L327.7 265.7 L328.4 261.0 L329.0 258.3 L329.6 259.7 L330.2 259.2 L330.9 259.7 L331.5 259.7 L332.1 259.7 L332.8 261.7 L333.4 266.2 L334.0 264.3 L334.6 264.5 L335.3 263.3 L335.9 263.3 L336.5 263.3 L337.2 260.7 L337.8 260.6 L338.4 261.1 L339.1 259.2 L339.7 259.0 L340.3 259.0 L340.9 259.0 L341.6 257.3 L342.2 255.9 L342.8 255.1 L343.5 255.0 L344.1 256.5 L344.7 256.5 L345.4 256.5 L346.0 258.3 L346.6 259.7 L347.2 261.4 L347.9 261.5 L348.5 258.3 L349.1 258.3 L349.8 258.3 L350.4 256.8 L351.0 259.6 L351.7 263.3 L352.3 265.2 L352.9 262.1 L353.5 262.1 L354.2 262.1 L354.8 259.8 L355.4 260.1 L356.1 261.0 L356.7 262.6 L357.3 260.5 L358.0 260.5 L358.6 260.5 L359.2 258.6 L359.8 258.0 L360.5 256.3 L361.1 254.8 L361.7 254.0 L362.4 254.0 L363.0 254.0 L363.6 251.5 L364.2 249.5 L364.9 247.7 L365.5 245.2 L366.1 245.2 L366.8 245.2 L367.4 245.2 L368.0 243.5 L368.7 246.7 L369.3 248.5 L369.9 249.4 L370.5 250.3 L371.2 250.3 L371.8 250.3 L372.4 248.4 L373.1 246.9 L373.7 246.8 L374.3 245.7 L375.0 244.9 L375.6 244.9 L376.2 244.9 L376.8 243.9 L377.5 242.7 L378.1 243.6 L378.7 242.5 L379.4 242.9 L380.0 242.9 L380.6 242.9 L381.3 240.4 L381.9 240.7 L382.5 240.5 L383.1 239.9 L383.8 240.4 L384.4 240.4 L385.0 240.4 L385.7 240.8 L386.3 238.3 L386.9 236.9 L387.6 236.1 L388.2 235.2 L388.8 235.2 L389.4 235.2 L390.1 234.9 L390.7 234.3 L391.3 233.8 L392.0 234.1 L392.6 234.4 L393.2 234.4 L393.8 234.4 L394.5 236.8 L395.1 239.4 L395.7 239.9 L396.4 242.0 L397.0 241.9 L397.6 241.9 L398.3 241.9 L398.9 238.9 L399.5 239.0 L400.1 238.3 L400.8 239.3 L401.4 238.2 L402.0 238.2 L402.7 238.2 L403.3 236.9 L403.9 236.0 L404.6 237.0 L405.2 237.0 L405.8 237.3 L406.4 237.3 L407.1 237.3 L407.7 236.5 L408.3 237.3 L409.0 237.4 L409.6 238.7 L410.2 240.6 L410.9 240.6 L411.5 240.6 L412.1 238.7 L412.7 238.3 L413.4 238.3 L414.0 237.6 L414.6 236.2 L415.3 236.2 L415.9 236.2 L416.5 235.6 L417.2 235.3 L417.8 235.1 L418.4 235.2 L419.0 233.7 L419.7 233.7 L420.3 233.7 L420.9 233.3 L421.6 232.2 L422.2 232.2 L422.8 233.4 L423.5 232.6 L424.1 232.6 L424.7 232.6 L425.3 232.1 L426.0 236.3 L426.6 235.9 L427.2 237.8 L427.9 237.5 L428.5 237.5 L429.1 237.5 L429.7 234.5 L430.4 233.8 L431.0 232.7 L431.6 233.6 L432.3 233.0 L432.9 233.0 L433.5 233.0 L434.2 234.7 L434.8 232.8 L435.4 233.4 L436.0 231.7 L436.7 232.7 L437.3 232.7 L437.9 232.7 L438.6 231.9 L439.2 230.3 L439.8 229.5 L440.5 229.2 L441.1 231.0 L441.7 231.0 L442.3 231.0 L443.0 230.9 L443.6 230.1 L444.2 229.6 L444.9 231.4 L445.5 231.9 L446.1 231.9 L446.8 231.9 L447.4 231.4 L448.0 230.0 L448.6 230.5 L449.3 231.3 L449.9 233.0 L450.5 233.0 L451.2 233.0 L451.8 235.0 L452.4 232.9 L453.1 232.8 L453.7 231.4 L454.3 230.9 L454.9 230.9 L455.6 230.9 L456.2 230.1 L456.8 228.8 L457.5 227.9 L458.1 229.4 L458.7 231.5 L459.3 231.5 L460.0 231.5 L460.6 231.6 L461.2 231.2 L461.9 230.9 L462.5 231.7 L463.1 233.1 L463.8 233.1 L464.4 233.1 L465.0 232.4 L465.6 233.4 L466.3 235.2 L466.9 235.4 L467.5 236.7 L468.2 236.7 L468.8 236.7 L469.4 234.8 L470.1 234.6 L470.7 233.2 L471.3 232.8 L471.9 232.0 L472.6 232.0 L473.2 232.0 L473.8 235.0 L474.5 235.9 L475.1 237.0 L475.7 237.2 L476.4 236.0 L477.0 236.0 L477.6 236.0 L478.2 236.9 L478.9 236.0 L479.5 234.7 L480.1 235.4 L480.8 235.4 L481.4 235.4 L482.0 235.4 L482.7 239.3 L483.3 239.6 L483.9 241.0 L484.5 243.2 L485.2 245.1 L485.8 245.1 L486.4 245.1 L487.1 243.1 L487.7 244.1 L488.3 244.0 L488.9 245.1 L489.6 240.8 L490.2 240.8 L490.8 240.8 L491.5 241.2 L492.1 242.7 L492.7 249.1 L493.4 250.4 L494.0 249.7 L494.6 249.7 L495.2 249.7 L495.9 248.0 L496.5 249.3 L497.1 249.6 L497.8 250.3 L498.4 252.0 L499.0 252.0 L499.7 252.0 L500.3 252.9 L500.9 253.4 L501.5 254.2 L502.2 253.1 L502.8 252.3 L503.4 252.3 L504.1 252.3 L504.7 254.0 L505.3 253.2 L506.0 251.9 L506.6 250.9 L507.2 250.9 L507.8 250.9 L508.5 250.9 L509.1 250.9 L509.7 251.1 L510.4 251.7 L511.0 252.2 L511.6 255.9 L512.3 255.9 L512.9 255.9 L513.5 255.9 L514.1 253.5 L514.8 253.1 L515.4 251.6 L516.0 251.0 L516.7 251.0 L517.3 251.0 L517.9 250.6 L518.6 250.2 L519.2 250.8 L519.8 251.2 L520.4 251.8 L521.1 251.8 L521.7 251.8 L522.3 251.9 L523.0 253.6 L523.6 254.2 L524.2 254.7 L524.8 250.6 L525.5 250.6 L526.1 250.6 L526.7 247.5 L527.4 248.5 L528.0 248.3 L528.6 247.5 L529.3 247.1 L529.9 247.1 L530.5 247.1 L531.1 245.4 L531.8 244.0 L532.4 243.4 L533.0 243.8 L533.7 243.8 L534.3 243.8 L534.9 243.8 L535.6 243.5 L536.2 243.2 L536.8 241.3 L537.4 242.2 L538.1 241.9 L538.7 241.9 L539.3 241.9 L540.0 241.8 L540.6 242.1 L541.2 243.6 L541.9 244.3 L542.5 244.5 L543.1 244.5 L543.7 244.5 L544.4 243.9 L545.0 244.5 L545.6 245.7 L546.3 245.4 L546.9 246.6 L547.5 246.6 L548.2 246.6 L548.8 244.0 L549.4 244.0 L550.0 242.4 L550.7 240.8 L551.3 240.6 L551.9 240.6 L552.6 240.6 L553.2 241.4 L553.8 242.4 L554.4 241.7 L555.1 243.8 L555.7 244.6 L556.3 244.6 L557.0 244.6 L557.6 244.4 L558.2 243.7 L558.9 244.5 L559.5 243.9 L560.1 244.2 L560.7 244.2 L561.4 244.2 L562.0 243.1 L562.6 241.7 L563.3 241.6 L563.9 241.1 L564.5 240.6 L565.2 240.6 L565.8 240.6 L566.4 238.4 L567.0 237.8 L567.7 235.0 L568.3 235.2 L568.9 235.8 L569.6 235.8 L570.2 235.8 L570.8 233.5 L571.5 234.3 L572.1 234.5 L572.7 234.5 L573.3 234.1 L574.0 234.1 L574.6 234.1 L575.2 233.8 L575.9 234.0 L576.5 235.3 L577.1 235.9 L577.8 233.9 L578.4 233.9 L579.0 233.9 L579.6 233.0 L580.3 233.7 L580.9 235.8 L581.5 237.3 L582.2 239.5 L582.8 239.5 L583.4 239.5 L584.0 238.3 L584.7 238.5 L585.3 239.1 L585.9 238.0 L586.6 237.8 L587.2 237.8 L587.8 237.8 L588.5 238.1 L589.1 239.8 L589.7 240.0 L590.3 239.8 L591.0 239.1 L591.6 239.1 L592.2 239.1 L592.9 237.5 L593.5 236.8 L594.1 236.9 L594.8 236.0 L595.4 235.5 L596.0 235.5 L596.6 235.5 L597.3 236.5 L597.9 234.7 L598.5 234.7 L599.2 235.5 L599.8 236.1 L600.4 236.1 L601.1 236.1 L601.7 238.2 L602.3 238.3 L602.9 240.1 L603.6 238.8 L604.2 237.1 L604.8 237.1 L605.5 237.1 L606.1 237.0 L606.7 237.8 L607.4 240.3 L608.0 240.8 L608.6 241.8 L609.2 241.8 L609.9 241.8 L610.5 240.2 L611.1 240.8 L611.8 240.3 L612.4 240.7 L613.0 240.9 L613.6 240.9 L614.3 240.9 L614.9 241.2 L615.5 241.0 L616.2 240.6 L616.8 240.3 L617.4 239.9 L618.1 239.9 L618.7 239.9 L619.3 240.7 L619.9 240.1 L620.6 241.1 L621.2 242.2 L621.8 244.5 L622.5 244.5 L623.1 244.5 L623.7 242.9 L624.4 244.2 L625.0 244.2 L625.6 245.3 L626.2 246.8 L626.9 246.8 L627.5 246.8 L628.1 247.7 L628.8 248.7 L629.4 247.7 L630.0 246.6 L630.7 246.2 L631.3 246.2 L631.9 246.2 L632.5 246.3 L633.2 247.8 L633.8 248.2 L634.4 248.5 L635.1 249.1 L635.7 249.1 L636.3 249.1 L637.0 250.6 L637.6 250.9 L638.2 253.6 L638.8 257.2 L639.5 260.9 L640.1 260.9 L640.7 260.9 L641.4 262.1 L642.0 260.4 L642.6 259.7 L643.3 260.0 L643.9 258.6 L644.5 258.6 L645.1 258.6 L645.8 261.2 L646.4 261.0 L647.0 261.0 L647.7 258.7 L648.3 258.6 L648.9 258.6 L649.5 258.6 L650.2 259.3 L650.8 260.9 L651.4 260.6 L652.1 261.4 L652.7 261.5 L653.3 261.5 L654.0 261.5 L654.6 263.0 L655.2 263.6 L655.8 264.1 L656.5 263.4 L657.1 263.2 L657.7 263.2 L658.4 263.2 L659.0 263.3 L659.6 265.0 L660.3 267.0 L660.9 268.1 L661.5 268.5 L662.1 268.5 L662.8 268.5 L663.4 269.9 L664.0 270.8 L664.7 271.1 L665.3 271.2 L665.9 269.8 L666.6 269.8 L667.2 269.8 L667.8 271.5 L668.4 272.4 L669.1 271.7 L669.7 270.8 L670.3 270.6 L671.0 270.6 L671.6 270.6 L672.2 271.6 L672.9 271.4 L673.5 271.9 L674.1 271.6 L674.7 270.4 L675.4 270.4 L676.0 270.4 L676.6 271.0 L677.3 270.7 L677.9 269.4 L678.5 267.7 L679.1 264.0 L679.8 264.0 L680.4 264.0 L681.0 260.9 L681.7 260.7 L682.3 260.3 L682.9 260.8 L683.6 261.2 L684.2 261.2 L684.8 261.2 L685.4 262.1 L686.1 261.3 L686.7 261.6 L687.3 260.6 L688.0 259.8 L688.6 259.8 L689.2 259.8 L689.9 259.5 L690.5 258.9 L691.1 258.8 L691.7 258.2 L692.4 257.2 L693.0 257.2 L693.6 257.2 L694.3 256.6 L694.9 256.4 L695.5 257.3 L696.2 255.0 L696.8 255.9 L697.4 255.9 L698.0 255.9 L698.7 255.6 L699.3 255.3 L699.9 254.7 L700.6 253.5 L701.2 254.2 L701.8 254.2 L702.5 254.2 L703.1 252.8 L703.7 251.7 L704.3 253.5 L705.0 251.4 L705.6 250.7 L706.2 250.7 L706.9 250.7 L707.5 252.4 L708.1 251.9 L708.7 252.7 L709.4 251.7 L710.0 249.8 L710.6 249.8 L711.3 249.8 L711.9 252.7 L712.5 253.4 L713.2 253.5 L713.8 255.0 L714.4 254.8 L715.0 254.8 L715.7 254.8 L716.3 256.5 L716.9 256.6 L717.6 256.6 L718.2 257.4 L718.8 257.3 L719.5 257.3 L720.1 257.3 L720.7 257.1 L721.3 256.4 L722.0 255.4 L722.6 255.6 L723.2 253.4 L723.9 253.4 L724.5 253.4 L725.1 253.4 L725.8 251.7 L726.4 251.0 L727.0 250.4 L727.6 251.3 L728.3 251.3 L728.9 251.3 L729.5 251.1 L730.2 251.3 L730.8 252.5 L731.4 252.3 L732.1 251.4 L732.7 251.4 L733.3 251.4 L733.9 253.0 L734.6 253.2 L735.2 253.0 L735.8 252.9 L736.5 251.9 L737.1 251.9 L737.7 251.9 L738.4 252.9 L739.0 253.4 L739.6 252.5 L740.2 251.6 L740.9 251.3 L741.5 251.3 L742.1 251.3 L742.8 250.3 L743.4 250.6 L744.0 251.1 L744.6 252.6 L745.3 252.0 L745.9 252.0 L746.5 252.0 L747.2 253.5 L747.8 253.3 L748.4 253.1 L749.1 251.9 L749.7 252.5 L750.3 252.5 L750.9 252.5 L751.6 254.2 L752.2 253.9 L752.8 253.5 L753.5 253.8 L754.1 252.8 L754.7 252.8 L755.4 252.8 L756.0 255.0 L756.6 254.5 L757.2 253.2 L757.9 253.7 L758.5 253.5 L759.1 253.5 L759.8 253.5 L760.4 252.5 L761.0 252.8 L761.7 253.3 L762.3 252.5 L762.9 253.0 L763.5 253.0 L764.2 253.0 L764.8 253.2 L765.4 252.8 L766.1 253.0 L766.7 253.3 L767.3 254.6 L768.0 254.6 L768.6 254.6 L769.2 256.9 L769.8 258.4 L770.5 259.3 L771.1 260.7 L771.7 261.6 L772.4 261.6 L773.0 261.6 L773.6 260.9 L774.2 260.7 L774.9 260.4 L775.5 260.2 L776.1 261.5 L776.8 261.5 L777.4 261.5 L778.0 262.9 L778.7 261.6 L779.3 260.6 L779.9 260.5 L780.5 260.4 L781.2 260.4 L781.8 260.4 L782.4 260.9 L783.1 259.7 L783.7 261.1 L784.3 259.3 L785.0 259.8 L785.6 259.8 L786.2 259.8 L786.8 260.3 L787.5 260.2 L788.1 258.8 L788.7 260.3 L789.4 260.5 L790.0 260.5 L790.6 260.5 L791.3 261.7 L791.9 262.6 L792.5 265.2 L793.1 266.1 L793.8 269.6 L794.4 269.6 L795.0 269.6 L795.7 266.8 L796.3 265.4 L796.9 263.8 L797.6 262.7 L798.2 260.8 L798.8 260.8 L799.4 260.8 L800.1 264.3 L800.7 265.4 L801.3 265.8 L802.0 265.8 L802.6 266.4 L803.2 266.4 L803.8 266.4 L804.5 266.0 L805.1 264.7 L805.7 264.6 L806.4 265.1 L807.0 267.1 L807.6 267.1 L808.3 267.1 L808.9 269.7 L809.5 269.6 L810.1 270.2 L810.8 268.0 L811.4 268.4 L812.0 268.4 L812.7 268.4 L813.3 266.0 L813.9 265.7 L814.6 267.0 L815.2 264.9 L815.8 262.9 L816.4 262.9 L817.1 262.9 L817.7 261.6 L818.3 260.6 L819.0 258.5 L819.6 259.6 L820.2 260.1 L820.9 260.1 L821.5 260.1 L822.1 260.4 L822.7 260.7 L823.4 260.6 L824.0 260.8 L824.6 260.8 L825.3 260.8 L825.9 260.8 L826.5 260.7 L827.2 260.6 L827.8 261.2 L828.4 262.6 L829.0 263.5 L829.7 263.5 L830.3 263.5 L830.9 262.1 L831.6 262.7 L832.2 262.9 L832.8 263.0 L833.5 259.9 L834.1 259.9 L834.7 259.9 L835.3 260.4 L836.0 260.8 L836.6 260.4 L837.2 260.8 L837.9 262.0 L838.5 262.0 L839.1 262.0 L839.7 262.2 L840.4 262.1 L841.0 261.7 L841.6 262.1 L842.3 263.9 L842.9 263.9 L843.5 263.9 L844.2 264.0 L844.8 266.1 L845.4 266.1 L846.0 267.2 L846.7 267.2 L847.3 267.2 L847.9 267.2 L848.6 267.1 L849.2 267.3 L849.8 266.1 L850.5 266.2 L851.1 263.9 L851.7 263.9 L852.3 263.9 L853.0 263.7 L853.6 262.4 L854.2 263.1 L854.9 262.7 L855.5 263.2 L856.1 263.2 L856.8 263.2 L857.4 262.8 L858.0 264.0 L858.6 262.9 L859.3 261.9 L859.9 262.0 L860.5 262.0 L861.2 262.0 L861.8 264.7 L862.4 264.1 L863.1 263.5 L863.7 262.9 L864.3 262.7 L864.9 262.7 L865.6 262.7 L866.2 263.5 L866.8 262.1 L867.5 262.4 L868.1 263.3 L868.7 268.6 L869.3 268.6 L870.0 268.6 L870.6 268.1 L871.2 267.6 L871.9 268.4 L872.5 268.5 L873.1 267.2 L873.8 267.2 L874.4 267.2 L875.0 268.6 L875.6 267.7 L876.3 267.8 L876.9 268.1 L877.5 267.0 L878.2 267.0 L878.8 267.0 L879.4 267.7 L880.1 267.4 L880.7 266.8 L881.3 266.9 L881.9 268.5 L882.6 268.5 L883.2 268.5 L883.8 268.2 L884.5 268.4 L885.1 267.8 L885.7 269.6 L886.4 270.4 L887.0 270.4 L887.6 270.4 L888.2 270.4 L888.9 270.4 L889.5 272.2 L890.1 272.3 L890.8 273.3 L891.4 273.3 L892.0 273.3 L892.7 274.1 L893.3 273.2 L893.9 273.3 L894.5 271.7 L895.2 271.4 L895.8 271.4 L896.4 271.4 L897.1 273.1 L897.7 272.5 L898.3 272.0 L898.9 271.4 L899.6 271.4 L900.2 271.4 L900.8 271.4 L901.5 271.5 L902.1 270.3 L902.7 270.6 L903.4 269.7 L904.0 271.0 L904.6 271.0 L905.2 271.0 L905.9 271.4 L906.5 271.7 L907.1 272.1 L907.8 271.8 L908.4 271.5 L909.0 271.5 L909.7 271.5 L910.3 271.6 L910.9 271.7 L911.5 272.0 L912.2 272.3 L912.8 272.9 L913.4 272.9 L914.1 272.9 L914.7 274.0 L915.3 274.8 L916.0 275.9 L916.6 274.9 L917.2 275.1 L917.8 275.1 L918.5 275.1 L919.1 274.3 L919.7 274.4 L920.4 276.1 L921.0 276.0 L921.6 274.8 L922.3 274.8 L922.9 274.8 L923.5 274.6 L924.1 274.5 L924.8 273.5 L925.4 271.1 L926.0 271.4 L926.7 271.4 L927.3 271.4 L927.9 272.9 L928.5 271.0 L929.2 270.4 L929.8 270.9 L930.4 272.7 L931.1 272.7 L931.7 272.7 L932.3 271.6 L933.0 272.3 L933.6 273.0 L934.2 272.3 L934.8 271.5 L935.5 271.5 L936.1 271.5 L936.7 270.1 L937.4 270.5 L938.0 272.3 L938.6 271.7 L939.3 273.3 L939.9 273.3 L940.5 273.3 L941.1 274.8 L941.8 275.3 L942.4 274.8 L943.0 274.5 L943.7 273.6 L944.3 273.6 L944.9 273.6 L945.6 274.9 L946.2 274.3 L946.8 273.7 L947.4 272.8 L948.1 273.5 L948.7 273.5 L949.3 273.5 L950.0 271.2 L950.6 271.2 L951.2 272.7 L951.9 272.4 L952.5 273.8 L953.1 273.8 L953.7 273.8 L954.4 273.2 L955.0 274.0 L955.6 274.5 L956.3 275.0 L956.9 275.3 L957.5 275.3 L958.2 275.3 L958.8 273.5 L959.4 273.7 L960.0 273.6 L960.7 274.2 L961.3 274.7 L961.9 274.7 L962.6 274.7 L963.2 275.2 L963.8 275.6 L964.4 274.4 L965.1 275.2 L965.7 275.0 L966.3 275.0 L967.0 275.0 L967.6 274.7 L968.2 275.6 L968.9 274.5 L969.5 274.4 L970.1 274.7 L970.7 274.7 L971.4 274.7 L972.0 274.7 L972.6 273.3 L973.3 273.7 L973.9 272.6 L974.5 271.5" stroke="#4472c4" stroke-width="1.25"/>
<path class="ln" d="M46.2 323.2 L46.8 322.9 L47.5 320.8 L48.1 321.0 L48.7 320.7 L49.3 320.7 L50.0 320.7 L50.6 321.2 L51.2 321.3 L51.9 319.4 L52.5 318.3 L53.1 317.9 L53.8 317.9 L54.4 317.9 L55.0 319.3 L55.6 318.9 L56.3 318.7 L56.9 317.4 L57.5 317.2 L58.2 317.2 L58.8 317.2 L59.4 318.2 L60.1 318.4 L60.7 318.6 L61.3 318.0 L61.9 318.2 L62.6 318.2 L63.2 318.2 L63.8 316.9 L64.5 316.5 L65.1 316.3 L65.7 315.1 L66.4 315.1 L67.0 315.1 L67.6 315.1 L68.2 313.8 L68.9 314.5 L69.5 314.2 L70.1 314.7 L70.8 313.2 L71.4 313.2 L72.0 313.2 L72.7 312.9 L73.3 313.8 L73.9 315.2 L74.5 316.3 L75.2 314.4 L75.8 314.4 L76.4 314.4 L77.1 315.1 L77.7 314.6 L78.3 314.0 L78.9 314.6 L79.6 315.8 L80.2 315.8 L80.8 315.8 L81.5 319.3 L82.1 319.6 L82.7 320.3 L83.4 320.3 L84.0 319.5 L84.6 319.5 L85.2 319.5 L85.9 319.0 L86.5 316.0 L87.1 315.8 L87.8 313.0 L88.4 311.3 L89.0 311.3 L89.7 311.3 L90.3 309.0 L90.9 307.5 L91.5 308.6 L92.2 305.7 L92.8 306.0 L93.4 306.0 L94.1 306.0 L94.7 304.9 L95.3 303.9 L96.0 301.4 L96.6 302.3 L97.2 301.1 L97.8 301.1 L98.5 301.1 L99.1 301.7 L99.7 302.0 L100.4 302.5 L101.0 300.9 L101.6 300.0 L102.3 300.0 L102.9 300.0 L103.5 298.4 L104.1 298.0 L104.8 294.7 L105.4 295.9 L106.0 295.1 L106.7 295.1 L107.3 295.1 L107.9 292.8 L108.6 292.6 L109.2 291.6 L109.8 292.0 L110.4 290.8 L111.1 290.8 L111.7 290.8 L112.3 289.0 L113.0 289.1 L113.6 289.4 L114.2 289.8 L114.8 290.0 L115.5 290.0 L116.1 290.0 L116.7 293.2 L117.4 290.5 L118.0 288.8 L118.6 289.7 L119.3 288.8 L119.9 288.8 L120.5 288.8 L121.1 287.1 L121.8 285.4 L122.4 284.6 L123.0 284.2 L123.7 285.5 L124.3 285.5 L124.9 285.5 L125.6 287.3 L126.2 288.0 L126.8 289.8 L127.4 289.0 L128.1 288.0 L128.7 288.0 L129.3 288.0 L130.0 290.6 L130.6 290.8 L131.2 290.9 L131.9 291.1 L132.5 292.3 L133.1 292.3 L133.7 292.3 L134.4 293.1 L135.0 293.5 L135.6 292.8 L136.3 292.7 L136.9 293.0 L137.5 293.0 L138.2 293.0 L138.8 290.5 L139.4 289.4 L140.0 289.8 L140.7 288.9 L141.3 288.6 L141.9 288.6 L142.6 288.6 L143.2 287.2 L143.8 285.6 L144.4 285.0 L145.1 283.5 L145.7 280.3 L146.3 280.3 L147.0 280.3 L147.6 276.2 L148.2 274.8 L148.9 277.7 L149.5 279.8 L150.1 279.5 L150.7 279.5 L151.4 279.5 L152.0 278.8 L152.6 281.8 L153.3 282.4 L153.9 281.2 L154.5 279.9 L155.2 279.9 L155.8 279.9 L156.4 281.3 L157.0 283.3 L157.7 284.9 L158.3 286.0 L158.9 287.2 L159.6 287.2 L160.2 287.2 L160.8 290.8 L161.5 290.3 L162.1 287.7 L162.7 285.4 L163.3 285.6 L164.0 285.6 L164.6 285.6 L165.2 288.2 L165.9 286.9 L166.5 287.4 L167.1 286.3 L167.8 286.8 L168.4 286.8 L169.0 286.8 L169.6 286.0 L170.3 288.1 L170.9 288.6 L171.5 290.0 L172.2 292.4 L172.8 292.4 L173.4 292.4 L174.0 293.9 L174.7 294.3 L175.3 294.6 L175.9 296.1 L176.6 297.7 L177.2 297.7 L177.8 297.7 L178.5 296.3 L179.1 295.7 L179.7 294.9 L180.3 294.7 L181.0 293.8 L181.6 293.8 L182.2 293.8 L182.9 293.5 L183.5 293.4 L184.1 292.1 L184.8 291.0 L185.4 291.4 L186.0 291.4 L186.6 291.4 L187.3 290.0 L187.9 288.7 L188.5 288.5 L189.2 288.1 L189.8 286.9 L190.4 286.9 L191.1 286.9 L191.7 285.6 L192.3 285.5 L192.9 283.8 L193.6 284.3 L194.2 283.1 L194.8 283.1 L195.5 283.1 L196.1 282.4 L196.7 281.0 L197.4 281.3 L198.0 280.4 L198.6 280.8 L199.2 280.8 L199.9 280.8 L200.5 279.9 L201.1 279.2 L201.8 278.2 L202.4 277.7 L203.0 276.8 L203.7 276.8 L204.3 276.8 L204.9 274.8 L205.5 274.7 L206.2 274.0 L206.8 272.9 L207.4 273.5 L208.1 273.5 L208.7 273.5 L209.3 269.5 L209.9 269.3 L210.6 265.7 L211.2 264.0 L211.8 264.6 L212.5 264.6 L213.1 264.6 L213.7 262.1 L214.4 264.0 L215.0 265.0 L215.6 264.7 L216.2 266.1 L216.9 266.1 L217.5 266.1 L218.1 269.3 L218.8 267.4 L219.4 266.9 L220.0 265.6 L220.7 264.9 L221.3 264.9 L221.9 264.9 L222.5 262.4 L223.2 261.9 L223.8 261.7 L224.4 261.1 L225.1 261.2 L225.7 261.2 L226.3 261.2 L227.0 259.2 L227.6 257.4 L228.2 254.7 L228.8 255.2 L229.5 253.9 L230.1 253.9 L230.7 253.9 L231.4 255.2 L232.0 258.2 L232.6 260.7 L233.3 260.4 L233.9 259.2 L234.5 259.2 L235.1 259.2 L235.8 256.5 L236.4 255.5 L237.0 256.7 L237.7 255.4 L238.3 255.1 L238.9 255.1 L239.5 255.1 L240.2 255.1 L240.8 258.4 L241.4 260.2 L242.1 262.0 L242.7 264.9 L243.3 264.9 L244.0 264.9 L244.6 264.7 L245.2 263.7 L245.8 265.4 L246.5 267.0 L247.1 267.5 L247.7 267.5 L248.4 267.5 L249.0 264.2 L249.6 264.7 L250.3 265.7 L250.9 266.1 L251.5 266.0 L252.1 266.0 L252.8 266.0 L253.4 267.1 L254.0 269.4 L254.7 270.7 L255.3 271.9 L255.9 273.9 L256.6 273.9 L257.2 273.9 L257.8 271.9 L258.4 273.1 L259.1 274.3 L259.7 275.2 L260.3 271.1 L261.0 271.1 L261.6 271.1 L262.2 272.2 L262.9 272.9 L263.5 273.7 L264.1 275.3 L264.7 271.7 L265.4 271.7 L266.0 271.7 L266.6 271.1 L267.3 270.1 L267.9 268.9 L268.5 268.7 L269.1 267.1 L269.8 267.1 L270.4 267.1 L271.0 265.8 L271.7 264.3 L272.3 263.9 L272.9 263.8 L273.6 264.0 L274.2 264.0 L274.8 264.0 L275.4 264.1 L276.1 266.0 L276.7 266.5 L277.3 267.6 L278.0 270.7 L278.6 270.7 L279.2 270.7 L279.9 272.0 L280.5 271.8 L281.1 273.3 L281.7 273.4 L282.4 273.2 L283.0 273.2 L283.6 273.2 L284.3 275.1 L284.9 275.3 L285.5 276.5 L286.2 276.2 L286.8 274.3 L287.4 274.3 L288.0 274.3 L288.7 275.3 L289.3 273.8 L289.9 274.1 L290.6 273.7 L291.2 274.6 L291.8 274.6 L292.5 274.6 L293.1 272.3 L293.7 274.3 L294.3 276.4 L295.0 275.7 L295.6 273.3 L296.2 273.3 L296.9 273.3 L297.5 271.1 L298.1 270.5 L298.7 269.2 L299.4 269.5 L300.0 267.6 L300.6 267.6 L301.3 267.6 L301.9 266.9 L302.5 265.9 L303.2 265.2 L303.8 264.6 L304.4 262.8 L305.0 262.8 L305.7 262.8 L306.3 261.3 L306.9 262.2 L307.6 261.0 L308.2 261.4 L308.8 260.6 L309.5 260.6 L310.1 260.6 L310.7 261.3 L311.3 260.7 L312.0 260.1 L312.6 259.4 L313.2 259.8 L313.9 259.8 L314.5 259.8 L315.1 260.7 L315.8 261.2 L316.4 261.8 L317.0 264.0 L317.6 265.6 L318.3 265.6 L318.9 265.6 L319.5 269.9 L320.2 272.4 L320.8 272.1 L321.4 271.3 L322.1 273.3 L322.7 273.3 L323.3 273.3 L323.9 271.9 L324.6 272.9 L325.2 271.6 L325.8 273.5 L326.5 276.2 L327.1 276.2 L327.7 276.2 L328.4 274.0 L329.0 272.9 L329.6 272.9 L330.2 273.5 L330.9 275.5 L331.5 275.5 L332.1 275.5 L332.8 277.0 L333.4 279.0 L334.0 279.2 L334.6 277.9 L335.3 277.6 L335.9 277.6 L336.5 277.6 L337.2 276.3 L337.8 275.6 L338.4 274.2 L339.1 274.0 L339.7 272.7 L340.3 272.7 L340.9 272.7 L341.6 270.3 L342.2 270.6 L342.8 271.8 L343.5 271.7 L344.1 273.8 L344.7 273.8 L345.4 273.8 L346.0 275.7 L346.6 275.5 L347.2 275.3 L347.9 274.2 L348.5 273.8 L349.1 273.8 L349.8 273.8 L350.4 274.4 L351.0 275.2 L351.7 275.7 L352.3 277.1 L352.9 275.7 L353.5 275.7 L354.2 275.7 L354.8 273.8 L355.4 274.3 L356.1 275.4 L356.7 276.0 L357.3 275.0 L358.0 275.0 L358.6 275.0 L359.2 273.8 L359.8 272.9 L360.5 271.5 L361.1 270.4 L361.7 270.6 L362.4 270.6 L363.0 270.6 L363.6 268.8 L364.2 267.2 L364.9 266.5 L365.5 266.2 L366.1 265.4 L366.8 265.4 L367.4 265.4 L368.0 266.3 L368.7 268.1 L369.3 268.3 L369.9 270.0 L370.5 270.9 L371.2 270.9 L371.8 270.9 L372.4 267.2 L373.1 268.2 L373.7 267.0 L374.3 266.6 L375.0 266.6 L375.6 266.6 L376.2 266.6 L376.8 266.6 L377.5 265.7 L378.1 265.8 L378.7 266.1 L379.4 266.4 L380.0 266.4 L380.6 266.4 L381.3 265.2 L381.9 266.2 L382.5 266.6 L383.1 267.1 L383.8 265.4 L384.4 265.4 L385.0 265.4 L385.7 265.4 L386.3 264.2 L386.9 265.0 L387.6 264.8 L388.2 263.2 L388.8 263.2 L389.4 263.2 L390.1 262.1 L390.7 260.6 L391.3 260.0 L392.0 259.0 L392.6 259.6 L393.2 259.6 L393.8 259.6 L394.5 260.0 L395.1 264.5 L395.7 265.1 L396.4 265.7 L397.0 266.9 L397.6 266.9 L398.3 266.9 L398.9 265.3 L399.5 265.4 L400.1 266.7 L400.8 265.2 L401.4 264.7 L402.0 264.7 L402.7 264.7 L403.3 263.6 L403.9 262.2 L404.6 261.8 L405.2 261.3 L405.8 259.3 L406.4 259.3 L407.1 259.3 L407.7 260.9 L408.3 259.2 L409.0 256.6 L409.6 258.0 L410.2 258.1 L410.9 258.1 L411.5 258.1 L412.1 257.6 L412.7 259.4 L413.4 259.9 L414.0 258.2 L414.6 257.6 L415.3 257.6 L415.9 257.6 L416.5 254.4 L417.2 254.1 L417.8 254.3 L418.4 253.5 L419.0 252.6 L419.7 252.6 L420.3 252.6 L420.9 251.8 L421.6 252.5 L422.2 253.8 L422.8 254.4 L423.5 254.6 L424.1 254.6 L424.7 254.6 L425.3 255.4 L426.0 256.3 L426.6 257.0 L427.2 257.9 L427.9 257.3 L428.5 257.3 L429.1 257.3 L429.7 255.6 L430.4 254.7 L431.0 253.9 L431.6 254.3 L432.3 253.8 L432.9 253.8 L433.5 253.8 L434.2 253.3 L434.8 252.0 L435.4 252.3 L436.0 253.1 L436.7 252.1 L437.3 252.1 L437.9 252.1 L438.6 250.5 L439.2 250.1 L439.8 249.9 L440.5 248.8 L441.1 246.6 L441.7 246.6 L442.3 246.6 L443.0 245.3 L443.6 244.8 L444.2 243.8 L444.9 243.7 L445.5 241.7 L446.1 241.7 L446.8 241.7 L447.4 239.5 L448.0 239.2 L448.6 239.6 L449.3 239.4 L449.9 240.2 L450.5 240.2 L451.2 240.2 L451.8 242.7 L452.4 245.7 L453.1 244.1 L453.7 243.6 L454.3 243.3 L454.9 243.3 L455.6 243.3 L456.2 241.7 L456.8 236.6 L457.5 235.8 L458.1 234.6 L458.7 235.4 L459.3 235.4 L460.0 235.4 L460.6 237.3 L461.2 236.7 L461.9 236.6 L462.5 237.2 L463.1 238.2 L463.8 238.2 L464.4 238.2 L465.0 236.6 L465.6 238.2 L466.3 240.1 L466.9 242.5 L467.5 244.2 L468.2 244.2 L468.8 244.2 L469.4 245.0 L470.1 245.4 L470.7 244.7 L471.3 244.2 L471.9 243.6 L472.6 243.6 L473.2 243.6 L473.8 247.0 L474.5 247.3 L475.1 247.3 L475.7 247.9 L476.4 248.9 L477.0 248.9 L477.6 248.9 L478.2 247.2 L478.9 247.7 L479.5 247.6 L480.1 249.3 L480.8 250.1 L481.4 250.1 L482.0 250.1 L482.7 251.5 L483.3 252.2 L483.9 252.8 L484.5 253.4 L485.2 253.1 L485.8 253.1 L486.4 253.1 L487.1 254.5 L487.7 254.5 L488.3 254.5 L488.9 256.5 L489.6 256.4 L490.2 256.4 L490.8 256.4 L491.5 254.9 L492.1 253.9 L492.7 257.8 L493.4 261.1 L494.0 262.8 L494.6 262.8 L495.2 262.8 L495.9 262.7 L496.5 263.2 L497.1 262.9 L497.8 262.8 L498.4 263.9 L499.0 263.9 L499.7 263.9 L500.3 264.0 L500.9 264.8 L501.5 264.3 L502.2 265.8 L502.8 263.8 L503.4 263.8 L504.1 263.8 L504.7 261.9 L505.3 261.8 L506.0 260.6 L506.6 260.0 L507.2 259.3 L507.8 259.3 L508.5 259.3 L509.1 259.6 L509.7 260.7 L510.4 260.2 L511.0 260.2 L511.6 260.2 L512.3 260.2 L512.9 260.2 L513.5 259.7 L514.1 258.0 L514.8 257.0 L515.4 256.3 L516.0 256.5 L516.7 256.5 L517.3 256.5 L517.9 256.6 L518.6 256.6 L519.2 257.2 L519.8 257.3 L520.4 257.2 L521.1 257.2 L521.7 257.2 L522.3 258.6 L523.0 259.5 L523.6 260.2 L524.2 262.3 L524.8 259.5 L525.5 259.5 L526.1 259.5 L526.7 257.0 L527.4 256.7 L528.0 255.3 L528.6 256.0 L529.3 255.2 L529.9 255.2 L530.5 255.2 L531.1 253.4 L531.8 253.4 L532.4 252.6 L533.0 253.8 L533.7 252.8 L534.3 252.8 L534.9 252.8 L535.6 253.1 L536.2 251.9 L536.8 252.0 L537.4 253.0 L538.1 251.8 L538.7 251.8 L539.3 251.8 L540.0 253.3 L540.6 252.7 L541.2 253.5 L541.9 253.6 L542.5 254.9 L543.1 254.9 L543.7 254.9 L544.4 254.8 L545.0 257.1 L545.6 257.0 L546.3 258.0 L546.9 257.6 L547.5 257.6 L548.2 257.6 L548.8 257.9 L549.4 255.9 L550.0 254.7 L550.7 253.2 L551.3 252.3 L551.9 252.3 L552.6 252.3 L553.2 252.1 L553.8 251.9 L554.4 252.2 L555.1 253.0 L555.7 254.5 L556.3 254.5 L557.0 254.5 L557.6 254.6 L558.2 255.6 L558.9 255.0 L559.5 254.0 L560.1 254.5 L560.7 254.5 L561.4 254.5 L562.0 253.6 L562.6 252.1 L563.3 251.2 L563.9 250.8 L564.5 251.2 L565.2 251.2 L565.8 251.2 L566.4 249.9 L567.0 247.4 L567.7 246.8 L568.3 245.8 L568.9 245.2 L569.6 245.2 L570.2 245.2 L570.8 243.3 L571.5 243.1 L572.1 243.4 L572.7 243.7 L573.3 244.2 L574.0 244.2 L574.6 244.2 L575.2 242.8 L575.9 242.8 L576.5 242.4 L577.1 242.6 L577.8 243.3 L578.4 243.3 L579.0 243.3 L579.6 243.2 L580.3 243.8 L580.9 244.6 L581.5 245.1 L582.2 246.7 L582.8 246.7 L583.4 246.7 L584.0 247.7 L584.7 247.5 L585.3 247.1 L585.9 247.7 L586.6 248.9 L587.2 248.9 L587.8 248.9 L588.5 248.2 L589.1 250.3 L589.7 251.2 L590.3 250.0 L591.0 248.9 L591.6 248.9 L592.2 248.9 L592.9 248.3 L593.5 248.1 L594.1 248.2 L594.8 247.8 L595.4 247.3 L596.0 247.3 L596.6 247.3 L597.3 246.0 L597.9 245.4 L598.5 243.6 L599.2 245.6 L599.8 247.3 L600.4 247.3 L601.1 247.3 L601.7 249.4 L602.3 251.4 L602.9 252.8 L603.6 251.3 L604.2 249.6 L604.8 249.6 L605.5 249.6 L606.1 249.4 L606.7 250.0 L607.4 252.1 L608.0 253.1 L608.6 254.9 L609.2 254.9 L609.9 254.9 L610.5 254.1 L611.1 254.0 L611.8 254.4 L612.4 254.5 L613.0 254.7 L613.6 254.7 L614.3 254.7 L614.9 253.4 L615.5 253.0 L616.2 252.0 L616.8 252.1 L617.4 249.2 L618.1 249.2 L618.7 249.2 L619.3 249.0 L619.9 247.9 L620.6 250.1 L621.2 250.8 L621.8 252.2 L622.5 252.2 L623.1 252.2 L623.7 253.4 L624.4 253.4 L625.0 253.6 L625.6 253.9 L626.2 256.0 L626.9 256.0 L627.5 256.0 L628.1 255.7 L628.8 255.5 L629.4 254.5 L630.0 255.2 L630.7 254.6 L631.3 254.6 L631.9 254.6 L632.5 253.5 L633.2 253.3 L633.8 252.9 L634.4 254.4 L635.1 254.0 L635.7 254.0 L636.3 254.0 L637.0 255.8 L637.6 257.6 L638.2 260.1 L638.8 263.2 L639.5 266.5 L640.1 266.5 L640.7 266.5 L641.4 264.8 L642.0 263.0 L642.6 262.7 L643.3 261.8 L643.9 261.4 L644.5 261.4 L645.1 261.4 L645.8 264.2 L646.4 262.5 L647.0 262.7 L647.7 263.3 L648.3 263.6 L648.9 263.6 L649.5 263.6 L650.2 264.0 L650.8 263.1 L651.4 264.2 L652.1 264.2 L652.7 264.5 L653.3 264.5 L654.0 264.5 L654.6 265.7 L655.2 266.9 L655.8 265.0 L656.5 263.4 L657.1 263.2 L657.7 263.2 L658.4 263.2 L659.0 262.2 L659.6 265.5 L660.3 265.9 L660.9 267.2 L661.5 269.0 L662.1 269.0 L662.8 269.0 L663.4 270.2 L664.0 269.6 L664.7 269.4 L665.3 269.7 L665.9 270.2 L666.6 270.2 L667.2 270.2 L667.8 269.2 L668.4 269.3 L669.1 268.4 L669.7 267.7 L670.3 267.6 L671.0 267.6 L671.6 267.6 L672.2 268.3 L672.9 267.7 L673.5 266.2 L674.1 266.3 L674.7 266.8 L675.4 266.8 L676.0 266.8 L676.6 267.8 L677.3 266.1 L677.9 266.2 L678.5 263.2 L679.1 262.0 L679.8 262.0 L680.4 262.0 L681.0 258.9 L681.7 258.9 L682.3 258.8 L682.9 258.8 L683.6 258.9 L684.2 258.9 L684.8 258.9 L685.4 260.1 L686.1 260.2 L686.7 259.5 L687.3 260.2 L688.0 258.3 L688.6 258.3 L689.2 258.3 L689.9 255.9 L690.5 255.9 L691.1 254.8 L691.7 254.1 L692.4 253.5 L693.0 253.5 L693.6 253.5 L694.3 253.4 L694.9 252.2 L695.5 252.3 L696.2 251.9 L696.8 249.9 L697.4 249.9 L698.0 249.9 L698.7 250.9 L699.3 250.6 L699.9 248.8 L700.6 250.5 L701.2 252.2 L701.8 252.2 L702.5 252.2 L703.1 250.6 L703.7 250.4 L704.3 249.0 L705.0 248.4 L705.6 248.5 L706.2 248.5 L706.9 248.5 L707.5 249.5 L708.1 249.1 L708.7 248.6 L709.4 249.7 L710.0 250.3 L710.6 250.3 L711.3 250.3 L711.9 252.6 L712.5 253.0 L713.2 253.3 L713.8 254.0 L714.4 254.4 L715.0 254.4 L715.7 254.4 L716.3 254.6 L716.9 255.5 L717.6 256.1 L718.2 256.1 L718.8 256.3 L719.5 256.3 L720.1 256.3 L720.7 255.5 L721.3 254.6 L722.0 253.9 L722.6 253.3 L723.2 249.9 L723.9 249.9 L724.5 249.9 L725.1 249.8 L725.8 247.0 L726.4 246.4 L727.0 245.7 L727.6 244.5 L728.3 244.5 L728.9 244.5 L729.5 244.9 L730.2 245.9 L730.8 243.9 L731.4 244.2 L732.1 245.4 L732.7 245.4 L733.3 245.4 L733.9 245.0 L734.6 244.1 L735.2 245.3 L735.8 243.6 L736.5 242.4 L737.1 242.4 L737.7 242.4 L738.4 242.9 L739.0 241.4 L739.6 241.2 L740.2 240.6 L740.9 239.8 L741.5 239.8 L742.1 239.8 L742.8 238.5 L743.4 240.1 L744.0 242.7 L744.6 243.6 L745.3 244.7 L745.9 244.7 L746.5 244.7 L747.2 244.4 L747.8 243.5 L748.4 245.5 L749.1 245.4 L749.7 243.8 L750.3 243.8 L750.9 243.8 L751.6 245.7 L752.2 246.2 L752.8 246.1 L753.5 246.7 L754.1 246.8 L754.7 246.8 L755.4 246.8 L756.0 247.1 L756.6 246.5 L757.2 247.1 L757.9 249.8 L758.5 246.2 L759.1 246.2 L759.8 246.2 L760.4 247.0 L761.0 246.4 L761.7 244.1 L762.3 245.6 L762.9 246.8 L763.5 246.8 L764.2 246.8 L764.8 246.2 L765.4 245.8 L766.1 247.3 L766.7 247.3 L767.3 249.5 L768.0 249.5 L768.6 249.5 L769.2 251.4 L769.8 251.0 L770.5 252.5 L771.1 254.1 L771.7 256.0 L772.4 256.0 L773.0 256.0 L773.6 254.6 L774.2 254.4 L774.9 253.8 L775.5 255.5 L776.1 253.0 L776.8 253.0 L777.4 253.0 L778.0 254.7 L778.7 254.0 L779.3 253.4 L779.9 252.5 L780.5 254.0 L781.2 254.0 L781.8 254.0 L782.4 252.9 L783.1 252.9 L783.7 252.7 L784.3 253.2 L785.0 253.6 L785.6 253.6 L786.2 253.6 L786.8 251.5 L787.5 251.6 L788.1 251.5 L788.7 251.6 L789.4 253.5 L790.0 253.5 L790.6 253.5 L791.3 255.3 L791.9 256.3 L792.5 258.4 L793.1 258.4 L793.8 260.2 L794.4 260.2 L795.0 260.2 L795.7 255.3 L796.3 253.2 L796.9 250.8 L797.6 249.6 L798.2 249.8 L798.8 249.8 L799.4 249.8 L800.1 250.3 L800.7 251.5 L801.3 252.4 L802.0 252.0 L802.6 250.6 L803.2 250.6 L803.8 250.6 L804.5 248.3 L805.1 249.8 L805.7 250.1 L806.4 251.3 L807.0 253.4 L807.6 253.4 L808.3 253.4 L808.9 254.5 L809.5 254.2 L810.1 254.5 L810.8 255.8 L811.4 252.1 L812.0 252.1 L812.7 252.1 L813.3 252.6 L813.9 251.9 L814.6 252.3 L815.2 250.6 L815.8 249.4 L816.4 249.4 L817.1 249.4 L817.7 248.7 L818.3 247.9 L819.0 247.4 L819.6 246.1 L820.2 245.7 L820.9 245.7 L821.5 245.7 L822.1 245.9 L822.7 245.5 L823.4 244.7 L824.0 245.9 L824.6 247.4 L825.3 247.4 L825.9 247.4 L826.5 247.2 L827.2 248.6 L827.8 248.8 L828.4 249.2 L829.0 250.3 L829.7 250.3 L830.3 250.3 L830.9 247.5 L831.6 249.4 L832.2 250.5 L832.8 249.5 L833.5 249.2 L834.1 249.2 L834.7 249.2 L835.3 249.8 L836.0 249.0 L836.6 248.5 L837.2 247.9 L837.9 250.4 L838.5 250.4 L839.1 250.4 L839.7 249.3 L840.4 248.4 L841.0 250.7 L841.6 251.2 L842.3 251.7 L842.9 251.7 L843.5 251.7 L844.2 253.1 L844.8 254.1 L845.4 252.8 L846.0 253.9 L846.7 253.5 L847.3 253.5 L847.9 253.5 L848.6 253.1 L849.2 254.2 L849.8 252.6 L850.5 252.8 L851.1 251.4 L851.7 251.4 L852.3 251.4 L853.0 250.7 L853.6 251.2 L854.2 249.5 L854.9 249.5 L855.5 249.8 L856.1 249.8 L856.8 249.8 L857.4 248.8 L858.0 249.5 L858.6 248.9 L859.3 249.8 L859.9 248.8 L860.5 248.8 L861.2 248.8 L861.8 250.7 L862.4 251.0 L863.1 250.9 L863.7 249.3 L864.3 249.6 L864.9 249.6 L865.6 249.6 L866.2 250.7 L866.8 249.2 L867.5 250.1 L868.1 250.9 L868.7 255.1 L869.3 255.1 L870.0 255.1 L870.6 255.6 L871.2 254.7 L871.9 254.8 L872.5 254.3 L873.1 253.0 L873.8 253.0 L874.4 253.0 L875.0 253.7 L875.6 253.9 L876.3 253.6 L876.9 254.2 L877.5 252.1 L878.2 252.1 L878.8 252.1 L879.4 253.3 L880.1 253.1 L880.7 253.2 L881.3 250.9 L881.9 253.5 L882.6 253.5 L883.2 253.5 L883.8 253.4 L884.5 253.2 L885.1 253.7 L885.7 254.0 L886.4 254.7 L887.0 254.7 L887.6 254.7 L888.2 254.5 L888.9 255.4 L889.5 256.2 L890.1 258.0 L890.8 258.2 L891.4 258.2 L892.0 258.2 L892.7 259.2 L893.3 259.2 L893.9 258.3 L894.5 260.8 L895.2 259.9 L895.8 259.9 L896.4 259.9 L897.1 259.5 L897.7 258.2 L898.3 257.9 L898.9 256.7 L899.6 258.1 L900.2 258.1 L900.8 258.1 L901.5 257.3 L902.1 256.7 L902.7 257.8 L903.4 255.3 L904.0 256.1 L904.6 256.1 L905.2 256.1 L905.9 257.0 L906.5 256.6 L907.1 258.3 L907.8 256.1 L908.4 256.5 L909.0 256.5 L909.7 256.5 L910.3 257.3 L910.9 257.1 L911.5 256.5 L912.2 258.2 L912.8 258.3 L913.4 258.3 L914.1 258.3 L914.7 259.0 L915.3 259.5 L916.0 260.7 L916.6 260.3 L917.2 261.4 L917.8 261.4 L918.5 261.4 L919.1 260.5 L919.7 260.5 L920.4 260.3 L921.0 260.1 L921.6 260.5 L922.3 260.5 L922.9 260.5 L923.5 260.1 L924.1 260.5 L924.8 258.5 L925.4 258.2 L926.0 257.5 L926.7 257.5 L927.3 257.5 L927.9 257.5 L928.5 257.2 L929.2 257.0 L929.8 256.8 L930.4 257.9 L931.1 257.9 L931.7 257.9 L932.3 257.0 L933.0 258.4 L933.6 257.8 L934.2 258.0 L934.8 255.7 L935.5 255.7 L936.1 255.7 L936.7 256.2 L937.4 256.2 L938.0 257.2 L938.6 257.5 L939.3 257.6 L939.9 257.6 L940.5 257.6 L941.1 259.4 L941.8 260.1 L942.4 260.0 L943.0 259.0 L943.7 259.3 L944.3 259.3 L944.9 259.3 L945.6 257.4 L946.2 257.7 L946.8 256.6 L947.4 257.2 L948.1 257.6 L948.7 257.6 L949.3 257.6 L950.0 255.3 L950.6 255.9 L951.2 254.7 L951.9 255.3 L952.5 256.7 L953.1 256.7 L953.7 256.7 L954.4 255.6 L955.0 256.2 L955.6 255.0 L956.3 255.6 L956.9 255.5 L957.5 255.5 L958.2 255.5 L958.8 256.8 L959.4 255.8 L960.0 257.6 L960.7 256.1 L961.3 256.7 L961.9 256.7 L962.6 256.7 L963.2 255.2 L963.8 256.2 L964.4 256.6 L965.1 255.4 L965.7 254.7 L966.3 254.7 L967.0 254.7 L967.6 256.2 L968.2 256.3 L968.9 256.0 L969.5 256.2 L970.1 254.9 L970.7 254.9 L971.4 254.9 L972.0 256.4 L972.6 255.6 L973.3 254.0 L973.9 255.8 L974.5 254.4" stroke="#ed7d31" stroke-width="1.25"/>
<path class="ln" d="M46.2 360.5 L91.6 360.5 L92.2 353.9 L122.9 353.9 L123.5 340.6 L149.2 340.6 L149.8 320.6 L175.7 320.6 L176.3 300.6 L210.9 300.6 L211.6 280.6 L238.1 280.6 L238.7 260.6 L265.3 260.6 L265.9 247.3 L296.3 247.3 L296.9 240.6 L327.0 240.6 L327.6 234.0 L353.8 234.0 L354.4 227.3 L405.2 227.3 L405.8 220.7 L669.6 220.7 L670.2 234.0 L700.4 234.0 L701.0 240.6 L726.9 240.6 L727.5 247.3 L898.9 247.3 L899.5 254.0 L925.1 254.0 L925.7 260.6 L951.9 260.6 L952.5 267.3 L975.2 267.3" stroke="#a5a5a5" stroke-width="1.7"/>
<path class="ln" d="M46.2 369.9 L553.5 369.9 L554.1 364.5 L637.9 364.5 L638.5 360.5 L749.3 360.5 L749.9 353.9 L956.5 353.9 L957.1 347.2 L975.2 347.2" stroke="#ffc000" stroke-width="1.95"/>
<path class="ln" d="M46.2 180.4 L46.8 180.1 L47.5 179.3 L48.1 180.0 L48.7 180.7 L49.3 180.7 L50.0 180.7 L50.6 181.7 L51.2 182.6 L51.9 181.9 L52.5 182.5 L53.1 182.5 L53.8 182.5 L54.4 182.5 L55.0 182.3 L55.6 182.5 L56.3 183.2 L56.9 183.8 L57.5 184.3 L58.2 184.3 L58.8 184.3 L59.4 184.0 L60.1 182.8 L60.7 181.1 L61.3 181.4 L61.9 181.3 L62.6 181.3 L63.2 181.3 L63.8 182.2 L64.5 182.7 L65.1 181.7 L65.7 180.7 L66.4 181.4 L67.0 181.4 L67.6 181.4 L68.2 180.6 L68.9 180.1 L69.5 180.0 L70.1 180.0 L70.8 180.4 L71.4 180.4 L72.0 180.4 L72.7 180.8 L73.3 181.2 L73.9 182.1 L74.5 181.1 L75.2 181.2 L75.8 181.2 L76.4 181.2 L77.1 181.9 L77.7 182.1 L78.3 181.0 L78.9 181.6 L79.6 180.2 L80.2 180.2 L80.8 180.2 L81.5 180.9 L82.1 181.5 L82.7 181.1 L83.4 181.2 L84.0 181.7 L84.6 181.7 L85.2 181.7 L85.9 180.6 L86.5 179.7 L87.1 178.6 L87.8 178.3 L88.4 176.9 L89.0 176.9 L89.7 176.9 L90.3 175.0 L90.9 175.2 L91.5 173.8 L92.2 173.8 L92.8 173.5 L93.4 173.5 L94.1 173.5 L94.7 171.3 L95.3 169.5 L96.0 167.6 L96.6 166.8 L97.2 166.0 L97.8 166.0 L98.5 166.0 L99.1 164.1 L99.7 167.7 L100.4 167.0 L101.0 167.2 L101.6 165.6 L102.3 165.6 L102.9 165.6 L103.5 164.4 L104.1 164.1 L104.8 163.3 L105.4 162.7 L106.0 161.4 L106.7 161.4 L107.3 161.4 L107.9 160.3 L108.6 160.1 L109.2 159.4 L109.8 159.1 L110.4 158.6 L111.1 158.6 L111.7 158.6 L112.3 155.9 L113.0 154.5 L113.6 153.0 L114.2 153.7 L114.8 152.9 L115.5 152.9 L116.1 152.9 L116.7 155.6 L117.4 154.2 L118.0 152.6 L118.6 149.9 L119.3 149.5 L119.9 149.5 L120.5 149.5 L121.1 151.1 L121.8 149.6 L122.4 149.3 L123.0 149.8 L123.7 150.2 L124.3 150.2 L124.9 150.2 L125.6 150.1 L126.2 150.6 L126.8 150.8 L127.4 153.6 L128.1 152.7 L128.7 152.7 L129.3 152.7 L130.0 152.6 L130.6 153.6 L131.2 154.1 L131.9 154.9 L132.5 155.0 L133.1 155.0 L133.7 155.0 L134.4 156.9 L135.0 157.1 L135.6 157.2 L136.3 156.7 L136.9 156.6 L137.5 156.6 L138.2 156.6 L138.8 155.0 L139.4 153.1 L140.0 151.0 L140.7 149.8 L141.3 148.6 L141.9 148.6 L142.6 148.6 L143.2 146.9 L143.8 144.4 L144.4 143.1 L145.1 143.4 L145.7 142.0 L146.3 142.0 L147.0 142.0 L147.6 141.1 L148.2 140.5 L148.9 143.5 L149.5 145.7 L150.1 139.9 L150.7 139.9 L151.4 139.9 L152.0 138.4 L152.6 138.6 L153.3 139.7 L153.9 140.0 L154.5 139.4 L155.2 139.4 L155.8 139.4 L156.4 138.8 L157.0 138.0 L157.7 137.2 L158.3 138.2 L158.9 139.5 L159.6 139.5 L160.2 139.5 L160.8 138.9 L161.5 138.8 L162.1 138.3 L162.7 138.7 L163.3 137.4 L164.0 137.4 L164.6 137.4 L165.2 135.8 L165.9 135.3 L166.5 133.7 L167.1 133.5 L167.8 132.6 L168.4 132.6 L169.0 132.6 L169.6 133.9 L170.3 133.7 L170.9 135.5 L171.5 135.9 L172.2 137.3 L172.8 137.3 L173.4 137.3 L174.0 136.9 L174.7 136.8 L175.3 140.7 L175.9 143.8 L176.6 143.6 L177.2 143.6 L177.8 143.6 L178.5 146.9 L179.1 144.7 L179.7 141.8 L180.3 140.9 L181.0 141.1 L181.6 141.1 L182.2 141.1 L182.9 144.1 L183.5 144.4 L184.1 144.0 L184.8 144.1 L185.4 144.8 L186.0 144.8 L186.6 144.8 L187.3 141.5 L187.9 140.0 L188.5 139.8 L189.2 137.3 L189.8 136.5 L190.4 136.5 L191.1 136.5 L191.7 135.9 L192.3 136.9 L192.9 137.3 L193.6 137.3 L194.2 135.7 L194.8 135.7 L195.5 135.7 L196.1 133.5 L196.7 132.4 L197.4 131.1 L198.0 130.2 L198.6 129.7 L199.2 129.7 L199.9 129.7 L200.5 124.5 L201.1 124.0 L201.8 122.6 L202.4 123.0 L203.0 124.4 L203.7 124.4 L204.3 124.4 L204.9 122.1 L205.5 122.4 L206.2 123.4 L206.8 123.1 L207.4 124.2 L208.1 124.2 L208.7 124.2 L209.3 122.9 L209.9 123.2 L210.6 123.5 L211.2 124.3 L211.8 123.0 L212.5 123.0 L213.1 123.0 L213.7 121.4 L214.4 120.2 L215.0 120.0 L215.6 120.7 L216.2 120.9 L216.9 120.9 L217.5 120.9 L218.1 120.7 L218.8 120.0 L219.4 119.8 L220.0 120.0 L220.7 118.8 L221.3 118.8 L221.9 118.8 L222.5 118.2 L223.2 117.0 L223.8 115.4 L224.4 113.6 L225.1 113.7 L225.7 113.7 L226.3 113.7 L227.0 110.6 L227.6 110.3 L228.2 109.7 L228.8 109.2 L229.5 113.0 L230.1 113.0 L230.7 113.0 L231.4 112.4 L232.0 113.7 L232.6 115.8 L233.3 116.7 L233.9 115.1 L234.5 115.1 L235.1 115.1 L235.8 112.6 L236.4 113.2 L237.0 113.3 L237.7 113.8 L238.3 115.9 L238.9 115.9 L239.5 115.9 L240.2 115.8 L240.8 117.2 L241.4 117.0 L242.1 127.9 L242.7 128.9 L243.3 128.9 L244.0 128.9 L244.6 130.4 L245.2 130.5 L245.8 130.7 L246.5 128.6 L247.1 128.8 L247.7 128.8 L248.4 128.8 L249.0 126.4 L249.6 129.1 L250.3 131.8 L250.9 132.1 L251.5 131.6 L252.1 131.6 L252.8 131.6 L253.4 132.4 L254.0 132.1 L254.7 136.7 L255.3 141.0 L255.9 140.3 L256.6 140.3 L257.2 140.3 L257.8 137.6 L258.4 137.9 L259.1 136.3 L259.7 136.6 L260.3 135.9 L261.0 135.9 L261.6 135.9 L262.2 137.5 L262.9 136.0 L263.5 136.4 L264.1 136.6 L264.7 138.3 L265.4 138.3 L266.0 138.3 L266.6 136.2 L267.3 146.5 L267.9 145.9 L268.5 145.2 L269.1 144.9 L269.8 144.9 L270.4 144.9 L271.0 144.6 L271.7 142.3 L272.3 142.9 L272.9 143.9 L273.6 148.8 L274.2 148.8 L274.8 148.8 L275.4 145.9 L276.1 144.0 L276.7 144.4 L277.3 145.1 L278.0 145.5 L278.6 145.5 L279.2 145.5 L279.9 145.0 L280.5 144.9 L281.1 148.7 L281.7 154.6 L282.4 154.5 L283.0 154.5 L283.6 154.5 L284.3 153.8 L284.9 153.3 L285.5 153.2 L286.2 151.9 L286.8 150.4 L287.4 150.4 L288.0 150.4 L288.7 150.1 L289.3 150.0 L289.9 149.9 L290.6 149.4 L291.2 151.0 L291.8 151.0 L292.5 151.0 L293.1 151.5 L293.7 152.0 L294.3 151.5 L295.0 150.9 L295.6 148.0 L296.2 148.0 L296.9 148.0 L297.5 146.1 L298.1 146.3 L298.7 145.8 L299.4 146.7 L300.0 145.6 L300.6 145.6 L301.3 145.6 L301.9 143.3 L302.5 142.3 L303.2 141.8 L303.8 141.8 L304.4 141.0 L305.0 141.0 L305.7 141.0 L306.3 140.5 L306.9 140.7 L307.6 138.6 L308.2 137.7 L308.8 138.0 L309.5 138.0 L310.1 138.0 L310.7 137.6 L311.3 137.2 L312.0 136.9 L312.6 136.7 L313.2 136.8 L313.9 136.8 L314.5 136.8 L315.1 138.5 L315.8 136.4 L316.4 136.4 L317.0 138.1 L317.6 140.3 L318.3 140.3 L318.9 140.3 L319.5 143.0 L320.2 143.5 L320.8 142.4 L321.4 143.9 L322.1 145.6 L322.7 145.6 L323.3 145.6 L323.9 146.3 L324.6 145.7 L325.2 147.3 L325.8 148.7 L326.5 148.8 L327.1 148.8 L327.7 148.8 L328.4 149.5 L329.0 147.3 L329.6 146.0 L330.2 145.9 L330.9 145.1 L331.5 145.1 L332.1 145.1 L332.8 144.8 L333.4 145.9 L334.0 148.3 L334.6 146.7 L335.3 145.4 L335.9 145.4 L336.5 145.4 L337.2 145.4 L337.8 144.2 L338.4 144.6 L339.1 143.9 L339.7 143.9 L340.3 143.9 L340.9 143.9 L341.6 142.4 L342.2 142.3 L342.8 142.3 L343.5 142.4 L344.1 143.3 L344.7 143.3 L345.4 143.3 L346.0 143.3 L346.6 142.4 L347.2 143.2 L347.9 141.3 L348.5 137.4 L349.1 137.4 L349.8 137.4 L350.4 137.1 L351.0 139.4 L351.7 142.3 L352.3 141.2 L352.9 140.7 L353.5 140.7 L354.2 140.7 L354.8 141.7 L355.4 141.5 L356.1 141.4 L356.7 140.7 L357.3 139.9 L358.0 139.9 L358.6 139.9 L359.2 138.0 L359.8 135.9 L360.5 135.2 L361.1 135.4 L361.7 132.7 L362.4 132.7 L363.0 132.7 L363.6 130.9 L364.2 131.4 L364.9 129.7 L365.5 128.9 L366.1 128.6 L366.8 128.6 L367.4 128.6 L368.0 129.7 L368.7 131.4 L369.3 130.3 L369.9 130.0 L370.5 130.3 L371.2 130.3 L371.8 130.3 L372.4 131.5 L373.1 130.6 L373.7 130.5 L374.3 130.6 L375.0 131.0 L375.6 131.0 L376.2 131.0 L376.8 130.0 L377.5 130.2 L378.1 129.6 L378.7 129.1 L379.4 127.6 L380.0 127.6 L380.6 127.6 L381.3 125.8 L381.9 127.0 L382.5 126.4 L383.1 124.6 L383.8 123.2 L384.4 123.2 L385.0 123.2 L385.7 122.9 L386.3 123.1 L386.9 121.7 L387.6 122.0 L388.2 120.6 L388.8 120.6 L389.4 120.6 L390.1 120.6 L390.7 120.9 L391.3 121.9 L392.0 121.5 L392.6 127.5 L393.2 127.5 L393.8 127.5 L394.5 130.1 L395.1 130.3 L395.7 132.4 L396.4 134.0 L397.0 134.3 L397.6 134.3 L398.3 134.3 L398.9 133.0 L399.5 132.1 L400.1 132.8 L400.8 131.6 L401.4 127.3 L402.0 127.3 L402.7 127.3 L403.3 127.8 L403.9 127.3 L404.6 127.6 L405.2 130.2 L405.8 129.6 L406.4 129.6 L407.1 129.6 L407.7 125.3 L408.3 124.1 L409.0 123.0 L409.6 123.8 L410.2 125.4 L410.9 125.4 L411.5 125.4 L412.1 122.7 L412.7 121.7 L413.4 120.9 L414.0 120.8 L414.6 119.2 L415.3 119.2 L415.9 119.2 L416.5 118.1 L417.2 118.9 L417.8 117.6 L418.4 117.5 L419.0 118.1 L419.7 118.1 L420.3 118.1 L420.9 116.1 L421.6 117.2 L422.2 116.6 L422.8 117.5 L423.5 116.9 L424.1 116.9 L424.7 116.9 L425.3 115.9 L426.0 116.4 L426.6 117.4 L427.2 117.2 L427.9 117.9 L428.5 117.9 L429.1 117.9 L429.7 116.3 L430.4 114.7 L431.0 114.5 L431.6 114.6 L432.3 114.9 L432.9 114.9 L433.5 114.9 L434.2 115.1 L434.8 114.9 L435.4 114.7 L436.0 113.3 L436.7 113.7 L437.3 113.7 L437.9 113.7 L438.6 112.9 L439.2 114.0 L439.8 113.3 L440.5 113.5 L441.1 113.0 L441.7 113.0 L442.3 113.0 L443.0 111.8 L443.6 110.6 L444.2 110.7 L444.9 110.3 L445.5 110.0 L446.1 110.0 L446.8 110.0 L447.7 110.2 L448.1 130.3 L448.5 110.4 L449.3 110.1 L449.9 111.3 L450.5 111.3 L451.2 111.3 L451.8 110.2 L452.4 109.2 L453.1 109.6 L453.7 109.9 L454.3 109.6 L454.9 109.6 L455.6 109.6 L456.2 109.9 L456.8 108.9 L457.5 110.3 L458.1 109.6 L458.7 108.6 L459.3 108.6 L460.0 108.6 L460.6 108.9 L461.2 109.6 L461.9 109.2 L462.5 108.4 L463.1 110.9 L463.8 110.9 L464.4 110.9 L465.0 110.1 L465.6 106.7 L466.3 107.0 L466.9 109.1 L467.5 110.3 L468.2 110.3 L468.8 110.3 L469.4 109.0 L470.1 107.8 L470.7 106.7 L471.3 105.8 L471.9 105.8 L472.6 105.8 L473.2 105.8 L473.8 106.5 L474.5 106.5 L475.1 107.9 L475.7 107.8 L476.4 110.0 L477.0 110.0 L477.6 110.0 L478.2 112.5 L478.9 112.6 L479.5 111.4 L480.1 111.2 L480.8 111.8 L481.4 111.8 L482.0 111.8 L482.7 112.2 L483.3 114.0 L483.9 114.0 L484.5 113.8 L485.2 116.3 L485.8 116.3 L486.4 116.3 L487.1 114.9 L487.7 114.5 L488.3 115.4 L488.9 121.3 L489.6 119.2 L490.2 119.2 L490.8 119.2 L491.5 118.0 L492.1 118.9 L492.7 123.8 L493.4 126.9 L494.0 125.5 L494.6 125.5 L495.2 125.5 L495.9 124.5 L496.5 123.4 L497.1 123.5 L497.8 125.6 L498.4 124.4 L499.0 124.4 L499.7 124.4 L500.3 123.8 L500.9 126.1 L501.5 126.4 L502.2 127.0 L502.8 127.9 L503.4 127.9 L504.1 127.9 L504.7 128.7 L505.3 126.3 L506.0 124.3 L506.6 122.7 L507.2 122.0 L507.8 122.0 L508.5 122.0 L509.1 120.2 L509.7 119.7 L510.4 121.5 L511.0 119.5 L511.6 117.9 L512.3 117.9 L512.9 117.9 L513.5 116.1 L514.1 114.8 L514.8 114.5 L515.4 114.6 L516.0 113.6 L516.7 113.6 L517.3 113.6 L517.9 113.2 L518.6 113.7 L519.2 113.8 L519.8 114.6 L520.4 113.9 L521.1 113.9 L521.7 113.9 L522.3 114.6 L523.0 114.6 L523.6 115.6 L524.2 114.4 L524.8 112.1 L525.5 112.1 L526.1 112.1 L526.7 113.1 L527.4 112.3 L528.0 111.6 L528.6 110.2 L529.3 110.5 L529.9 110.5 L530.5 110.5 L531.1 109.7 L531.8 108.0 L532.4 108.3 L533.0 108.4 L533.7 108.6 L534.3 108.6 L534.9 108.6 L535.6 109.1 L536.2 108.5 L536.8 108.5 L537.4 108.2 L538.1 108.1 L538.7 108.1 L539.3 108.1 L540.0 107.7 L540.6 108.8 L541.2 108.8 L541.9 108.7 L542.5 108.3 L543.1 108.3 L543.7 108.3 L544.4 109.5 L545.0 108.5 L545.6 111.8 L546.3 113.6 L546.9 114.8 L547.5 114.8 L548.2 114.8 L548.8 115.5 L549.4 112.5 L550.0 112.6 L550.7 112.1 L551.3 111.2 L551.9 111.2 L552.6 111.2 L553.2 109.1 L553.8 106.8 L554.4 106.6 L555.1 106.0 L555.7 106.5 L556.3 106.5 L557.0 106.5 L557.6 105.8 L558.2 106.4 L558.9 106.2 L559.5 106.2 L560.1 106.4 L560.7 106.4 L561.4 106.4 L562.0 105.3 L562.6 105.7 L563.3 105.8 L563.9 105.5 L564.5 106.0 L565.2 106.0 L565.8 106.0 L566.4 105.5 L567.0 104.6 L567.7 104.5 L568.3 103.0 L568.9 102.3 L569.6 102.3 L570.2 102.3 L570.8 101.1 L571.5 99.6 L572.1 99.5 L572.7 99.6 L573.3 99.3 L574.0 99.3 L574.6 99.3 L575.2 98.2 L575.9 99.0 L576.5 98.7 L577.1 98.5 L577.8 92.6 L578.4 92.6 L579.0 92.6 L579.6 94.9 L580.3 92.8 L580.9 97.4 L581.5 101.1 L582.2 102.2 L582.8 102.2 L583.4 102.2 L584.0 100.3 L584.7 100.4 L585.3 98.3 L585.9 98.6 L586.6 98.6 L587.2 98.6 L587.8 98.6 L588.5 96.8 L589.1 96.5 L589.7 99.7 L590.3 98.7 L591.0 98.2 L591.6 98.2 L592.2 98.2 L592.9 96.7 L593.5 95.9 L594.1 95.5 L594.8 95.4 L595.4 95.6 L596.0 95.6 L596.6 95.6 L597.3 94.1 L597.9 94.6 L598.5 94.2 L599.2 93.9 L599.8 93.7 L600.4 93.7 L601.1 93.7 L601.7 95.8 L602.3 98.8 L602.9 98.6 L603.6 97.5 L604.2 97.6 L604.8 97.6 L605.5 97.6 L606.1 95.3 L606.7 94.8 L607.4 94.5 L608.0 94.6 L608.6 94.5 L609.2 94.5 L609.9 94.5 L610.5 92.4 L611.1 92.8 L611.8 92.3 L612.4 91.7 L613.0 89.8 L613.6 89.8 L614.3 89.8 L614.9 89.1 L615.5 89.0 L616.2 87.4 L616.8 87.0 L617.4 87.0 L618.1 87.0 L618.7 87.0 L619.3 86.3 L619.9 85.5 L620.6 86.3 L621.2 85.5 L621.8 86.8 L622.5 86.8 L623.1 86.8 L623.7 86.0 L624.4 85.9 L625.0 87.8 L625.6 90.6 L626.2 92.1 L626.9 92.1 L627.5 92.1 L628.1 93.7 L628.8 91.8 L629.4 93.2 L630.0 93.8 L630.7 95.8 L631.3 95.8 L631.9 95.8 L632.5 94.2 L633.2 96.8 L633.8 99.5 L634.4 100.3 L635.1 101.5 L635.7 101.5 L636.3 101.5 L637.0 101.4 L637.6 102.5 L638.2 106.9 L638.8 111.4 L639.5 117.4 L640.1 117.4 L640.7 117.4 L641.4 120.4 L642.0 119.0 L642.6 117.3 L643.3 115.9 L643.9 115.6 L644.5 115.6 L645.1 115.6 L645.8 115.4 L646.4 114.4 L647.0 114.2 L647.7 112.5 L648.3 111.2 L648.9 111.2 L649.5 111.2 L650.2 116.6 L650.8 117.7 L651.4 119.4 L652.1 120.4 L652.7 120.1 L653.3 120.1 L654.0 120.1 L654.6 119.4 L655.2 121.5 L655.8 121.1 L656.5 119.8 L657.1 117.4 L657.7 117.4 L658.4 117.4 L659.0 116.0 L659.6 120.0 L660.3 122.5 L660.9 123.6 L661.5 124.5 L662.1 124.5 L662.8 124.5 L663.4 124.0 L664.0 125.3 L664.7 126.2 L665.3 127.1 L665.9 127.3 L666.6 127.3 L667.2 127.3 L667.8 129.0 L668.4 125.9 L669.1 125.2 L669.7 123.8 L670.3 122.0 L671.0 122.0 L671.6 122.0 L672.2 123.5 L672.9 122.2 L673.5 121.2 L674.1 119.8 L674.7 124.9 L675.4 124.9 L676.0 124.9 L676.6 122.5 L677.3 121.5 L677.9 118.0 L678.5 114.8 L679.1 112.1 L679.8 112.1 L680.4 112.1 L681.0 112.5 L681.7 112.9 L682.3 112.0 L682.9 112.2 L683.6 111.3 L684.2 111.3 L684.8 111.3 L685.4 110.2 L686.1 110.8 L686.7 109.6 L687.3 109.7 L688.0 110.1 L688.6 110.1 L689.2 110.1 L689.9 107.1 L690.5 106.4 L691.1 105.6 L691.7 104.8 L692.4 105.0 L693.0 105.0 L693.6 105.0 L694.3 102.8 L694.9 103.3 L695.5 102.5 L696.2 102.9 L696.8 103.7 L697.4 103.7 L698.0 103.7 L698.7 104.4 L699.3 104.9 L699.9 101.5 L700.6 100.3 L701.2 102.2 L701.8 102.2 L702.5 102.2 L703.1 101.3 L703.7 100.0 L704.3 98.7 L705.0 97.1 L705.6 99.4 L706.2 99.4 L706.9 99.4 L707.5 99.3 L708.1 99.1 L708.7 99.5 L709.4 99.2 L710.0 99.3 L710.6 99.3 L711.3 99.3 L711.9 100.8 L712.5 103.8 L713.2 105.7 L713.8 107.2 L714.4 110.2 L715.0 110.2 L715.7 110.2 L716.3 110.4 L716.9 110.0 L717.6 109.7 L718.2 108.9 L718.8 108.1 L719.5 108.1 L720.1 108.1 L720.7 106.9 L721.3 105.3 L722.0 105.1 L722.6 103.6 L723.2 102.9 L723.9 102.9 L724.5 102.9 L725.1 100.9 L725.8 100.9 L726.4 98.7 L727.0 95.1 L727.6 95.2 L728.3 95.2 L728.9 95.2 L729.5 94.4 L730.2 93.6 L730.8 92.5 L731.4 93.4 L732.1 93.0 L732.7 93.0 L733.3 93.0 L733.9 93.5 L734.6 93.5 L735.2 93.7 L735.8 94.7 L736.5 94.5 L737.1 94.5 L737.7 94.5 L738.4 93.7 L739.0 93.9 L739.6 91.8 L740.2 92.5 L740.9 91.7 L741.5 91.7 L742.1 91.7 L742.8 93.1 L743.4 94.4 L744.0 95.0 L744.6 96.4 L745.3 97.2 L745.9 97.2 L746.5 97.2 L747.2 96.5 L747.8 97.5 L748.4 98.4 L749.1 99.3 L749.7 98.3 L750.3 98.3 L750.9 98.3 L751.6 97.6 L752.2 98.2 L752.8 99.4 L753.5 99.7 L754.1 98.4 L754.7 98.4 L755.4 98.4 L756.0 99.6 L756.6 99.5 L757.2 100.1 L757.9 102.8 L758.5 106.4 L759.1 106.4 L759.8 106.4 L760.4 105.7 L761.0 104.7 L761.7 103.7 L762.3 103.0 L762.9 105.0 L763.5 105.0 L764.2 105.0 L764.8 105.4 L765.4 106.8 L766.1 107.8 L766.7 110.1 L767.3 111.4 L768.0 111.4 L768.6 111.4 L769.2 111.0 L769.8 111.7 L770.5 109.8 L771.1 109.3 L771.7 109.9 L772.4 109.9 L773.0 109.9 L773.6 110.0 L774.2 111.8 L774.9 111.3 L775.5 113.5 L776.1 113.9 L776.8 113.9 L777.4 113.9 L778.0 114.1 L778.7 114.8 L779.3 113.7 L779.9 112.3 L780.5 113.0 L781.2 113.0 L781.8 113.0 L782.4 111.1 L783.1 110.9 L783.7 110.3 L784.3 109.9 L785.0 109.5 L785.6 109.5 L786.2 109.5 L786.8 108.2 L787.5 107.8 L788.1 108.7 L788.7 107.8 L789.4 108.4 L790.0 108.4 L790.6 108.4 L791.3 109.1 L791.9 110.4 L792.5 110.3 L793.1 114.5 L793.8 116.3 L794.4 116.3 L795.0 116.3 L795.7 114.6 L796.3 113.3 L796.9 116.1 L797.6 119.8 L798.2 122.8 L798.8 122.8 L799.4 122.8 L800.1 124.1 L800.7 124.1 L801.3 125.6 L802.0 125.8 L802.6 126.2 L803.2 126.2 L803.8 126.2 L804.5 127.8 L805.1 127.4 L805.7 123.9 L806.4 123.6 L807.0 123.6 L807.6 123.6 L808.3 123.6 L808.9 124.4 L809.5 123.0 L810.1 120.8 L810.8 120.4 L811.4 119.7 L812.0 119.7 L812.7 119.7 L813.3 122.7 L813.9 125.2 L814.6 122.2 L815.2 118.9 L815.8 118.6 L816.4 118.6 L817.1 118.6 L817.7 115.4 L818.3 113.9 L819.0 115.7 L819.6 117.6 L820.2 119.1 L820.9 119.1 L821.5 119.1 L822.1 120.1 L822.7 120.0 L823.4 120.8 L824.0 121.0 L824.6 122.5 L825.3 122.5 L825.9 122.5 L826.5 124.6 L827.2 121.8 L827.8 121.3 L828.4 120.3 L829.0 120.2 L829.7 120.2 L830.3 120.2 L830.9 124.0 L831.6 123.4 L832.2 124.2 L832.8 121.8 L833.5 121.0 L834.1 121.0 L834.7 121.0 L835.3 119.6 L836.0 120.8 L836.6 121.2 L837.2 122.2 L837.9 120.5 L838.5 120.5 L839.1 120.5 L839.7 120.1 L840.4 119.6 L841.0 119.2 L841.6 118.9 L842.3 118.4 L842.9 118.4 L843.5 118.4 L844.2 118.3 L844.8 119.5 L845.4 119.5 L846.0 120.0 L846.7 120.6 L847.3 120.6 L847.9 120.6 L848.6 122.0 L849.2 122.0 L849.8 122.1 L850.5 121.1 L851.1 119.6 L851.7 119.6 L852.3 119.6 L853.0 117.2 L853.6 116.5 L854.2 116.9 L854.9 115.3 L855.5 114.4 L856.1 114.4 L856.8 114.4 L857.4 113.3 L858.0 111.5 L858.6 112.7 L859.3 112.1 L859.9 112.1 L860.5 112.1 L861.2 112.1 L861.8 114.7 L862.4 114.9 L863.1 115.5 L863.7 115.6 L864.3 114.3 L864.9 114.3 L865.6 114.3 L866.2 112.6 L866.8 112.1 L867.5 110.3 L868.1 109.2 L868.7 113.9 L869.3 113.9 L870.0 113.9 L870.6 114.8 L871.2 114.5 L871.9 114.5 L872.5 114.6 L873.1 113.3 L873.8 113.3 L874.4 113.3 L875.0 113.3 L875.6 114.0 L876.3 113.3 L876.9 113.8 L877.5 113.9 L878.2 113.9 L878.8 113.9 L879.4 113.5 L880.1 113.0 L880.7 113.8 L881.3 114.1 L881.9 114.9 L882.6 114.9 L883.2 114.9 L883.8 115.8 L884.5 115.2 L885.1 115.4 L885.7 115.2 L886.4 116.4 L887.0 116.4 L887.6 116.4 L888.2 114.5 L888.9 114.2 L889.5 113.6 L890.1 113.3 L890.8 113.7 L891.4 113.7 L892.0 113.7 L892.7 114.4 L893.3 115.0 L893.9 114.0 L894.5 114.6 L895.2 114.7 L895.8 114.7 L896.4 114.7 L897.1 115.2 L897.7 115.4 L898.3 116.1 L898.9 115.2 L899.6 114.0 L900.2 114.0 L900.8 114.0 L901.5 113.9 L902.1 115.1 L902.7 112.5 L903.4 110.7 L904.0 111.0 L904.6 111.0 L905.2 111.0 L905.9 110.3 L906.5 113.5 L907.1 114.3 L907.8 114.4 L908.4 113.1 L909.0 113.1 L909.7 113.1 L910.3 110.3 L910.9 104.7 L911.5 104.0 L912.2 104.3 L912.8 106.6 L913.4 106.6 L914.1 106.6 L914.7 105.7 L915.3 105.7 L916.0 107.5 L916.6 107.5 L917.2 107.5 L917.8 107.5 L918.5 107.5 L919.1 107.6 L919.7 106.4 L920.4 105.4 L921.0 104.7 L921.6 103.7 L922.3 103.7 L922.9 103.7 L923.5 104.1 L924.1 103.4 L924.8 101.9 L925.4 101.0 L926.0 101.0 L926.7 101.0 L927.3 101.0 L927.9 101.0 L928.5 101.2 L929.2 101.8 L929.8 102.3 L930.4 101.5 L931.1 101.5 L931.7 101.5 L932.3 101.0 L933.0 99.8 L933.6 99.4 L934.2 99.5 L934.8 99.0 L935.5 99.0 L936.1 99.0 L936.7 97.5 L937.4 96.6 L938.0 95.5 L938.6 95.0 L939.3 94.7 L939.9 94.7 L940.5 94.7 L941.1 94.9 L941.8 96.0 L942.4 96.3 L943.0 96.5 L943.7 96.2 L944.3 96.2 L944.9 96.2 L945.6 97.0 L946.2 97.9 L946.8 97.5 L947.4 98.4 L948.1 97.8 L948.7 97.8 L949.3 97.8 L950.0 96.9 L950.6 94.9 L951.2 96.9 L951.9 97.4 L952.5 97.3 L953.1 97.3 L953.7 97.3 L954.4 98.9 L955.0 98.8 L955.6 98.5 L956.3 97.0 L956.9 94.5 L957.5 94.5 L958.2 94.5 L958.8 95.4 L959.4 96.4 L960.0 97.5 L960.7 95.9 L961.3 96.3 L961.9 96.3 L962.6 96.3 L963.2 96.9 L963.8 96.7 L964.4 96.3 L965.1 95.9 L965.7 95.5 L966.3 95.5 L967.0 95.5 L967.6 95.2 L968.2 95.2 L968.9 93.5 L969.5 94.4 L970.1 93.4 L970.7 93.4 L971.4 93.4 L972.0 90.8 L972.6 91.4 L973.3 91.3 L973.9 91.7 L974.5 92.6" stroke="#5b9bd5" stroke-width="1.25"/>
<text class="ax" x="34.0" y="50.75" text-anchor="end" textLength="27.9" lengthAdjust="spacingAndGlyphs">12.000</text>
<text class="ax" x="34.0" y="104.04" text-anchor="end" textLength="27.9" lengthAdjust="spacingAndGlyphs">10.000</text>
<text class="ax" x="34.0" y="157.33" text-anchor="end" textLength="22.8" lengthAdjust="spacingAndGlyphs">8.000</text>
<text class="ax" x="34.0" y="210.62" text-anchor="end" textLength="22.8" lengthAdjust="spacingAndGlyphs">6.000</text>
<text class="ax" x="34.0" y="263.91" text-anchor="end" textLength="22.8" lengthAdjust="spacingAndGlyphs">4.000</text>
<text class="ax" x="34.0" y="317.20" text-anchor="end" textLength="22.8" lengthAdjust="spacingAndGlyphs">2.000</text>
<text class="ax" x="34.0" y="370.49" text-anchor="end" textLength="22.8" lengthAdjust="spacingAndGlyphs">0.000</text>
<text class="ax" x="36.0" y="423.78" text-anchor="end" textLength="28.9" lengthAdjust="spacingAndGlyphs" style="fill:#ff0000;stroke:#ff0000">(2.000)</text>
<text class="ax" x="985.3" y="50.75" textLength="27.9" lengthAdjust="spacingAndGlyphs">180.00</text>
<text class="ax" x="985.3" y="92.20" textLength="27.9" lengthAdjust="spacingAndGlyphs">160.00</text>
<text class="ax" x="985.3" y="133.65" textLength="27.9" lengthAdjust="spacingAndGlyphs">140.00</text>
<text class="ax" x="985.3" y="175.09" textLength="27.9" lengthAdjust="spacingAndGlyphs">120.00</text>
<text class="ax" x="985.3" y="216.54" textLength="27.9" lengthAdjust="spacingAndGlyphs">100.00</text>
<text class="ax" x="985.3" y="257.99" textLength="22.8" lengthAdjust="spacingAndGlyphs">80.00</text>
<text class="ax" x="985.3" y="299.44" textLength="22.8" lengthAdjust="spacingAndGlyphs">60.00</text>
<text class="ax" x="985.3" y="340.88" textLength="22.8" lengthAdjust="spacingAndGlyphs">40.00</text>
<text class="ax" x="985.3" y="382.33" textLength="22.8" lengthAdjust="spacingAndGlyphs">20.00</text>
<text class="ax" x="985.3" y="423.78" textLength="17.7" lengthAdjust="spacingAndGlyphs">0.00</text>
<text class="ax" transform="translate(50.40,374.6) rotate(-90)" text-anchor="end" textLength="38.1" lengthAdjust="spacingAndGlyphs">2022/1/3</text>
<text class="ax" transform="translate(69.92,374.6) rotate(-90)" text-anchor="end" textLength="38.1" lengthAdjust="spacingAndGlyphs">2022/2/3</text>
<text class="ax" transform="translate(87.56,374.6) rotate(-90)" text-anchor="end" textLength="38.1" lengthAdjust="spacingAndGlyphs">2022/3/3</text>
<text class="ax" transform="translate(107.08,374.6) rotate(-90)" text-anchor="end" textLength="38.1" lengthAdjust="spacingAndGlyphs">2022/4/3</text>
<text class="ax" transform="translate(125.98,374.6) rotate(-90)" text-anchor="end" textLength="38.1" lengthAdjust="spacingAndGlyphs">2022/5/3</text>
<text class="ax" transform="translate(145.50,374.6) rotate(-90)" text-anchor="end" textLength="38.1" lengthAdjust="spacingAndGlyphs">2022/6/3</text>
<text class="ax" transform="translate(164.39,374.6) rotate(-90)" text-anchor="end" textLength="38.1" lengthAdjust="spacingAndGlyphs">2022/7/3</text>
<text class="ax" transform="translate(183.92,374.6) rotate(-90)" text-anchor="end" textLength="38.1" lengthAdjust="spacingAndGlyphs">2022/8/3</text>
<text class="ax" transform="translate(203.44,374.6) rotate(-90)" text-anchor="end" textLength="38.1" lengthAdjust="spacingAndGlyphs">2022/9/3</text>
<text class="ax" transform="translate(222.34,374.6) rotate(-90)" text-anchor="end" textLength="43.2" lengthAdjust="spacingAndGlyphs">2022/10/3</text>
<text class="ax" transform="translate(241.86,374.6) rotate(-90)" text-anchor="end" textLength="43.2" lengthAdjust="spacingAndGlyphs">2022/11/3</text>
<text class="ax" transform="translate(260.75,374.6) rotate(-90)" text-anchor="end" textLength="43.2" lengthAdjust="spacingAndGlyphs">2022/12/3</text>
<text class="ax" transform="translate(280.28,374.6) rotate(-90)" text-anchor="end" textLength="38.1" lengthAdjust="spacingAndGlyphs">2023/1/3</text>
<text class="ax" transform="translate(299.80,374.6) rotate(-90)" text-anchor="end" textLength="38.1" lengthAdjust="spacingAndGlyphs">2023/2/3</text>
<text class="ax" transform="translate(317.44,374.6) rotate(-90)" text-anchor="end" textLength="38.1" lengthAdjust="spacingAndGlyphs">2023/3/3</text>
<text class="ax" transform="translate(336.96,374.6) rotate(-90)" text-anchor="end" textLength="38.1" lengthAdjust="spacingAndGlyphs">2023/4/3</text>
<text class="ax" transform="translate(355.85,374.6) rotate(-90)" text-anchor="end" textLength="38.1" lengthAdjust="spacingAndGlyphs">2023/5/3</text>
<text class="ax" transform="translate(375.38,374.6) rotate(-90)" text-anchor="end" textLength="38.1" lengthAdjust="spacingAndGlyphs">2023/6/3</text>
<text class="ax" transform="translate(394.27,374.6) rotate(-90)" text-anchor="end" textLength="38.1" lengthAdjust="spacingAndGlyphs">2023/7/3</text>
<text class="ax" transform="translate(413.79,374.6) rotate(-90)" text-anchor="end" textLength="38.1" lengthAdjust="spacingAndGlyphs">2023/8/3</text>
<text class="ax" transform="translate(433.32,374.6) rotate(-90)" text-anchor="end" textLength="38.1" lengthAdjust="spacingAndGlyphs">2023/9/3</text>
<text class="ax" transform="translate(452.21,374.6) rotate(-90)" text-anchor="end" textLength="43.2" lengthAdjust="spacingAndGlyphs">2023/10/3</text>
<text class="ax" transform="translate(471.74,374.6) rotate(-90)" text-anchor="end" textLength="43.2" lengthAdjust="spacingAndGlyphs">2023/11/3</text>
<text class="ax" transform="translate(490.63,374.6) rotate(-90)" text-anchor="end" textLength="43.2" lengthAdjust="spacingAndGlyphs">2023/12/3</text>
<text class="ax" transform="translate(510.15,374.6) rotate(-90)" text-anchor="end" textLength="38.1" lengthAdjust="spacingAndGlyphs">2024/1/3</text>
<text class="ax" transform="translate(529.68,374.6) rotate(-90)" text-anchor="end" textLength="38.1" lengthAdjust="spacingAndGlyphs">2024/2/3</text>
<text class="ax" transform="translate(547.94,374.6) rotate(-90)" text-anchor="end" textLength="38.1" lengthAdjust="spacingAndGlyphs">2024/3/3</text>
<text class="ax" transform="translate(567.47,374.6) rotate(-90)" text-anchor="end" textLength="38.1" lengthAdjust="spacingAndGlyphs">2024/4/3</text>
<text class="ax" transform="translate(586.36,374.6) rotate(-90)" text-anchor="end" textLength="38.1" lengthAdjust="spacingAndGlyphs">2024/5/3</text>
<text class="ax" transform="translate(605.88,374.6) rotate(-90)" text-anchor="end" textLength="38.1" lengthAdjust="spacingAndGlyphs">2024/6/3</text>
<text class="ax" transform="translate(624.78,374.6) rotate(-90)" text-anchor="end" textLength="38.1" lengthAdjust="spacingAndGlyphs">2024/7/3</text>
<text class="ax" transform="translate(644.30,374.6) rotate(-90)" text-anchor="end" textLength="38.1" lengthAdjust="spacingAndGlyphs">2024/8/3</text>
<text class="ax" transform="translate(663.83,374.6) rotate(-90)" text-anchor="end" textLength="38.1" lengthAdjust="spacingAndGlyphs">2024/9/3</text>
<text class="ax" transform="translate(682.72,374.6) rotate(-90)" text-anchor="end" textLength="43.2" lengthAdjust="spacingAndGlyphs">2024/10/3</text>
<text class="ax" transform="translate(702.24,374.6) rotate(-90)" text-anchor="end" textLength="43.2" lengthAdjust="spacingAndGlyphs">2024/11/3</text>
<text class="ax" transform="translate(721.14,374.6) rotate(-90)" text-anchor="end" textLength="43.2" lengthAdjust="spacingAndGlyphs">2024/12/3</text>
<text class="ax" transform="translate(740.66,374.6) rotate(-90)" text-anchor="end" textLength="38.1" lengthAdjust="spacingAndGlyphs">2025/1/3</text>
<text class="ax" transform="translate(760.18,374.6) rotate(-90)" text-anchor="end" textLength="38.1" lengthAdjust="spacingAndGlyphs">2025/2/3</text>
<text class="ax" transform="translate(777.82,374.6) rotate(-90)" text-anchor="end" textLength="38.1" lengthAdjust="spacingAndGlyphs">2025/3/3</text>
<text class="ax" transform="translate(797.34,374.6) rotate(-90)" text-anchor="end" textLength="38.1" lengthAdjust="spacingAndGlyphs">2025/4/3</text>
<text class="ax" transform="translate(816.24,374.6) rotate(-90)" text-anchor="end" textLength="38.1" lengthAdjust="spacingAndGlyphs">2025/5/3</text>
<text class="ax" transform="translate(835.76,374.6) rotate(-90)" text-anchor="end" textLength="38.1" lengthAdjust="spacingAndGlyphs">2025/6/3</text>
<text class="ax" transform="translate(854.65,374.6) rotate(-90)" text-anchor="end" textLength="38.1" lengthAdjust="spacingAndGlyphs">2025/7/3</text>
<text class="ax" transform="translate(874.18,374.6) rotate(-90)" text-anchor="end" textLength="38.1" lengthAdjust="spacingAndGlyphs">2025/8/3</text>
<text class="ax" transform="translate(893.70,374.6) rotate(-90)" text-anchor="end" textLength="38.1" lengthAdjust="spacingAndGlyphs">2025/9/3</text>
<text class="ax" transform="translate(912.60,374.6) rotate(-90)" text-anchor="end" textLength="43.2" lengthAdjust="spacingAndGlyphs">2025/10/3</text>
<text class="ax" transform="translate(932.12,374.6) rotate(-90)" text-anchor="end" textLength="43.2" lengthAdjust="spacingAndGlyphs">2025/11/3</text>
<text class="ax" transform="translate(951.01,374.6) rotate(-90)" text-anchor="end" textLength="43.2" lengthAdjust="spacingAndGlyphs">2025/12/3</text>
<text class="ax" transform="translate(970.54,374.6) rotate(-90)" text-anchor="end" textLength="38.1" lengthAdjust="spacingAndGlyphs">2026/1/3</text>
<line x1="179.7" y1="442.6" x2="201.0" y2="442.6" stroke="#70ad47" stroke-width="1.25" stroke-linecap="round"/>
<text class="lg" x="204.1" y="446.1">米国債<tspan class="lt" textLength="5.1" lengthAdjust="spacingAndGlyphs">3</tspan>カ月利回り</text>
<line x1="311.2" y1="442.6" x2="332.5" y2="442.6" stroke="#4472c4" stroke-width="1.25" stroke-linecap="round"/>
<text class="lg" x="335.6" y="446.1">米国債<tspan class="lt" textLength="5.1" lengthAdjust="spacingAndGlyphs">2</tspan>年利回り</text>
<line x1="432.0" y1="442.6" x2="453.3" y2="442.6" stroke="#ed7d31" stroke-width="1.25" stroke-linecap="round"/>
<text class="lg" x="456.4" y="446.1">米国債<tspan class="lt" textLength="10.1" lengthAdjust="spacingAndGlyphs">10</tspan>年利回り</text>
<line x1="557.7" y1="442.6" x2="579.0" y2="442.6" stroke="#a5a5a5" stroke-width="1.7" stroke-linecap="round"/>
<text class="lg" x="582.1" y="446.1">米国<tspan class="lt" textLength="15.5" lengthAdjust="spacingAndGlyphs">FRB</tspan>政策金利</text>
<line x1="679.6" y1="442.6" x2="700.9" y2="442.6" stroke="#ffc000" stroke-width="2.1" stroke-linecap="round"/>
<text class="lg" x="704.0" y="446.1">日本政策金利</text>
<line x1="784.9" y1="442.6" x2="806.2" y2="442.6" stroke="#5b9bd5" stroke-width="1.25" stroke-linecap="round"/>
<text class="lg" x="809.3" y="446.1"><tspan class="lt" textLength="35.3" lengthAdjust="spacingAndGlyphs">USD_JPY</tspan></text>
</svg></body></html>
